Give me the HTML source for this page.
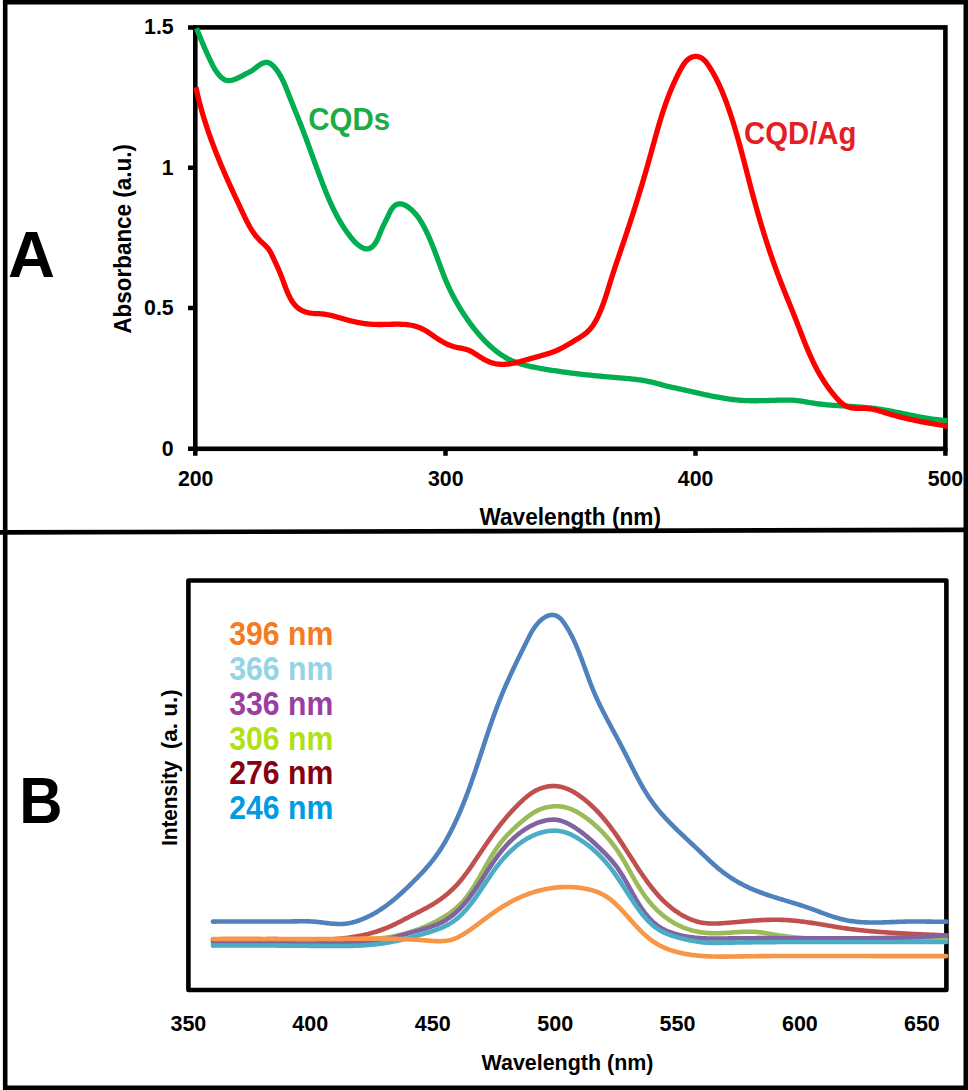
<!DOCTYPE html>
<html><head><meta charset="utf-8"><style>
html,body{margin:0;padding:0;background:#fff;}
body{width:968px;height:1090px;overflow:hidden;font-family:"Liberation Sans",sans-serif;}
svg{display:block;}
</style></head><body>
<svg width="968" height="1090" viewBox="0 0 968 1090">
<rect width="968" height="1090" fill="#fff"/>
<rect x="5.2" y="2.2" width="960.6" height="1085.6" fill="none" stroke="#000" stroke-width="4.6"/>
<line x1="0.5" y1="532.4" x2="964" y2="529.9" stroke="#000" stroke-width="4.6" stroke-linecap="round"/>
<path d="M188,27.4 H195.3 M188,167.7 H195.3 M188,307.9 H195.3 M188,448.8 H195.3 M195.3,448.8 V455.8 M445.5,448.8 V455.8 M695.5,448.8 V455.8 M945.4,448.8 V455.8" stroke="#000" stroke-width="4.5" fill="none"/>
<rect x="195.3" y="27.4" width="750.1" height="421.4" fill="none" stroke="#000" stroke-width="4.6"/>
<path d="M196.50,28.20 L197.05,29.61 L197.60,31.01 L198.16,32.42 L198.72,33.81 L199.28,35.21 L199.84,36.60 L200.41,37.99 L200.98,39.38 L201.56,40.76 L202.14,42.14 L202.72,43.52 L203.31,44.90 L203.90,46.27 L204.49,47.65 L205.09,49.02 L205.70,50.39 L206.31,51.76 L206.92,53.13 L207.54,54.49 L208.16,55.86 L208.79,57.22 L209.43,58.59 L210.07,59.95 L210.72,61.32 L211.37,62.68 L212.05,64.03 L212.74,65.37 L213.45,66.71 L214.20,68.03 L214.97,69.33 L215.78,70.61 L216.63,71.88 L217.52,73.11 L218.46,74.32 L219.45,75.49 L220.48,76.59 L221.57,77.60 L222.70,78.50 L223.88,79.28 L225.11,79.90 L226.39,80.34 L227.71,80.59 L229.08,80.65 L230.48,80.52 L231.92,80.24 L233.37,79.83 L234.84,79.31 L236.31,78.69 L237.78,78.01 L239.23,77.29 L240.67,76.54 L242.07,75.79 L243.45,75.07 L244.78,74.38 L246.06,73.74 L247.32,73.12 L248.55,72.49 L249.77,71.85 L250.98,71.16 L252.20,70.41 L253.42,69.58 L254.67,68.65 L255.95,67.67 L257.25,66.66 L258.58,65.67 L259.94,64.74 L261.34,63.89 L262.78,63.18 L264.23,62.66 L265.64,62.37 L267.00,62.36 L268.30,62.63 L269.53,63.12 L270.70,63.82 L271.82,64.67 L272.89,65.64 L273.91,66.70 L274.89,67.81 L275.82,68.95 L276.72,70.12 L277.58,71.32 L278.41,72.55 L279.21,73.80 L279.97,75.07 L280.71,76.36 L281.41,77.67 L282.10,79.00 L282.76,80.34 L283.41,81.70 L284.03,83.08 L284.64,84.46 L285.23,85.86 L285.81,87.26 L286.39,88.67 L286.95,90.08 L287.51,91.50 L288.06,92.91 L288.62,94.33 L289.17,95.75 L289.72,97.16 L290.28,98.57 L290.84,99.98 L291.40,101.38 L291.96,102.78 L292.53,104.18 L293.09,105.58 L293.66,106.97 L294.22,108.37 L294.79,109.76 L295.35,111.15 L295.92,112.54 L296.48,113.93 L297.04,115.32 L297.60,116.71 L298.16,118.10 L298.72,119.49 L299.27,120.88 L299.82,122.27 L300.37,123.67 L300.91,125.06 L301.45,126.46 L301.99,127.85 L302.53,129.25 L303.06,130.65 L303.60,132.05 L304.12,133.45 L304.65,134.85 L305.18,136.26 L305.70,137.66 L306.22,139.06 L306.74,140.47 L307.26,141.88 L307.78,143.28 L308.29,144.69 L308.81,146.10 L309.32,147.51 L309.84,148.92 L310.35,150.33 L310.86,151.74 L311.38,153.15 L311.89,154.56 L312.40,155.97 L312.91,157.38 L313.43,158.80 L313.94,160.21 L314.45,161.62 L314.97,163.04 L315.48,164.45 L316.00,165.86 L316.52,167.27 L317.03,168.69 L317.55,170.10 L318.08,171.51 L318.60,172.93 L319.12,174.34 L319.65,175.75 L320.18,177.16 L320.71,178.58 L321.24,179.99 L321.78,181.40 L322.32,182.81 L322.86,184.22 L323.40,185.63 L323.95,187.04 L324.51,188.44 L325.06,189.85 L325.63,191.25 L326.19,192.65 L326.76,194.05 L327.34,195.44 L327.93,196.83 L328.52,198.22 L329.11,199.61 L329.72,200.99 L330.33,202.36 L330.94,203.74 L331.57,205.10 L332.20,206.47 L332.85,207.82 L333.50,209.18 L334.16,210.52 L334.83,211.86 L335.51,213.20 L336.20,214.53 L336.90,215.85 L337.61,217.16 L338.33,218.47 L339.06,219.77 L339.81,221.06 L340.56,222.35 L341.33,223.62 L342.11,224.89 L342.91,226.15 L343.72,227.40 L344.54,228.64 L345.37,229.88 L346.22,231.10 L347.09,232.31 L347.96,233.51 L348.86,234.70 L349.77,235.89 L350.69,237.06 L351.63,238.22 L352.59,239.36 L353.57,240.49 L354.60,241.60 L355.66,242.69 L356.79,243.75 L357.98,244.77 L359.24,245.75 L360.58,246.66 L361.95,247.47 L363.34,248.14 L364.74,248.64 L366.11,248.92 L367.43,248.96 L368.70,248.74 L369.92,248.30 L371.07,247.65 L372.16,246.82 L373.19,245.85 L374.16,244.75 L375.05,243.55 L375.88,242.27 L376.65,240.94 L377.36,239.56 L378.02,238.16 L378.64,236.72 L379.23,235.28 L379.81,233.84 L380.38,232.41 L380.94,230.99 L381.51,229.61 L382.10,228.26 L382.71,226.95 L383.33,225.65 L383.96,224.37 L384.60,223.08 L385.25,221.79 L385.90,220.47 L386.57,219.13 L387.23,217.75 L387.90,216.32 L388.58,214.86 L389.28,213.40 L390.00,211.95 L390.76,210.55 L391.57,209.22 L392.44,207.98 L393.38,206.87 L394.39,205.90 L395.48,205.09 L396.67,204.49 L397.96,204.09 L399.32,203.91 L400.73,203.94 L402.15,204.16 L403.57,204.59 L404.96,205.19 L406.31,205.94 L407.61,206.77 L408.87,207.66 L410.07,208.58 L411.23,209.55 L412.34,210.56 L413.41,211.61 L414.44,212.70 L415.44,213.81 L416.39,214.96 L417.32,216.13 L418.21,217.34 L419.06,218.56 L419.90,219.81 L420.70,221.07 L421.48,222.36 L422.24,223.65 L422.98,224.96 L423.70,226.28 L424.41,227.61 L425.10,228.94 L425.77,230.28 L426.44,231.63 L427.09,232.98 L427.72,234.34 L428.35,235.70 L428.96,237.07 L429.57,238.44 L430.16,239.82 L430.74,241.20 L431.32,242.59 L431.89,243.98 L432.45,245.37 L433.00,246.76 L433.55,248.16 L434.09,249.56 L434.63,250.97 L435.16,252.37 L435.69,253.78 L436.22,255.19 L436.74,256.60 L437.26,258.01 L437.78,259.42 L438.30,260.83 L438.82,262.24 L439.34,263.65 L439.86,265.06 L440.38,266.47 L440.91,267.88 L441.44,269.29 L441.97,270.70 L442.51,272.10 L443.05,273.50 L443.60,274.91 L444.15,276.30 L444.71,277.70 L445.27,279.09 L445.85,280.48 L446.43,281.86 L447.03,283.24 L447.63,284.62 L448.24,285.99 L448.87,287.36 L449.50,288.72 L450.15,290.08 L450.80,291.43 L451.47,292.78 L452.14,294.12 L452.83,295.46 L453.52,296.80 L454.23,298.12 L454.94,299.45 L455.67,300.76 L456.40,302.07 L457.15,303.38 L457.90,304.68 L458.66,305.98 L459.43,307.27 L460.21,308.55 L461.00,309.83 L461.80,311.10 L462.60,312.37 L463.41,313.63 L464.24,314.88 L465.07,316.13 L465.90,317.37 L466.75,318.61 L467.61,319.84 L468.47,321.06 L469.34,322.28 L470.23,323.49 L471.12,324.69 L472.02,325.89 L472.93,327.08 L473.85,328.26 L474.79,329.43 L475.73,330.60 L476.68,331.76 L477.65,332.91 L478.62,334.05 L479.61,335.19 L480.61,336.31 L481.62,337.43 L482.64,338.54 L483.68,339.64 L484.72,340.73 L485.78,341.81 L486.85,342.88 L487.94,343.94 L489.03,344.98 L490.14,346.01 L491.26,347.02 L492.40,348.01 L493.55,348.99 L494.71,349.95 L495.88,350.89 L497.07,351.81 L498.27,352.71 L499.49,353.59 L500.71,354.44 L501.96,355.27 L503.21,356.08 L504.48,356.86 L505.77,357.61 L507.07,358.33 L508.38,359.03 L509.71,359.69 L511.05,360.33 L512.40,360.93 L513.77,361.51 L515.16,362.05 L516.55,362.57 L517.96,363.07 L519.38,363.53 L520.80,363.98 L522.24,364.40 L523.69,364.81 L525.14,365.19 L526.60,365.56 L528.07,365.91 L529.54,366.24 L531.02,366.56 L532.50,366.87 L533.99,367.17 L535.47,367.46 L536.96,367.74 L538.46,368.01 L539.95,368.28 L541.44,368.54 L542.93,368.80 L544.42,369.05 L545.91,369.30 L547.40,369.55 L548.89,369.79 L550.38,370.03 L551.87,370.27 L553.35,370.50 L554.84,370.73 L556.33,370.95 L557.82,371.17 L559.31,371.39 L560.79,371.60 L562.28,371.81 L563.77,372.02 L565.26,372.22 L566.74,372.43 L568.23,372.62 L569.72,372.82 L571.20,373.01 L572.69,373.20 L574.18,373.38 L575.67,373.57 L577.15,373.75 L578.64,373.92 L580.13,374.10 L581.62,374.27 L583.11,374.44 L584.60,374.60 L586.09,374.76 L587.58,374.92 L589.07,375.08 L590.56,375.24 L592.05,375.39 L593.54,375.54 L595.03,375.69 L596.53,375.84 L598.02,375.98 L599.51,376.12 L601.01,376.26 L602.50,376.40 L604.00,376.53 L605.50,376.66 L606.99,376.80 L608.49,376.92 L609.99,377.05 L611.49,377.18 L612.99,377.30 L614.49,377.42 L615.99,377.54 L617.50,377.66 L619.00,377.79 L620.50,377.91 L622.00,378.03 L623.51,378.16 L625.01,378.30 L626.51,378.43 L628.01,378.57 L629.51,378.72 L631.01,378.88 L632.50,379.04 L634.00,379.21 L635.49,379.39 L636.99,379.58 L638.47,379.78 L639.96,379.99 L641.45,380.21 L642.93,380.45 L644.41,380.70 L645.88,380.96 L647.36,381.24 L648.83,381.54 L650.29,381.85 L651.76,382.18 L653.21,382.52 L654.67,382.88 L656.12,383.26 L657.57,383.65 L659.02,384.04 L660.47,384.43 L661.91,384.82 L663.36,385.21 L664.81,385.59 L666.27,385.96 L667.72,386.31 L669.18,386.65 L670.64,386.99 L672.10,387.31 L673.57,387.63 L675.03,387.95 L676.50,388.26 L677.97,388.57 L679.43,388.88 L680.90,389.20 L682.37,389.52 L683.84,389.85 L685.30,390.17 L686.77,390.50 L688.24,390.83 L689.71,391.16 L691.17,391.50 L692.64,391.83 L694.11,392.17 L695.58,392.50 L697.05,392.83 L698.52,393.17 L699.99,393.50 L701.46,393.82 L702.93,394.15 L704.40,394.47 L705.87,394.79 L707.34,395.11 L708.81,395.42 L710.29,395.73 L711.76,396.03 L713.24,396.33 L714.71,396.62 L716.19,396.91 L717.67,397.18 L719.14,397.45 L720.62,397.72 L722.10,397.97 L723.58,398.22 L725.06,398.46 L726.55,398.69 L728.03,398.90 L729.51,399.11 L731.00,399.31 L732.49,399.50 L733.97,399.67 L735.46,399.83 L736.95,399.99 L738.44,400.12 L739.94,400.25 L741.43,400.36 L742.93,400.46 L744.42,400.54 L745.92,400.61 L747.42,400.66 L748.92,400.70 L750.42,400.74 L751.93,400.76 L753.43,400.77 L754.93,400.77 L756.44,400.76 L757.94,400.75 L759.45,400.72 L760.96,400.70 L762.46,400.66 L763.97,400.62 L765.48,400.58 L766.99,400.54 L768.49,400.49 L770.00,400.44 L771.51,400.39 L773.02,400.34 L774.52,400.29 L776.03,400.24 L777.54,400.20 L779.04,400.15 L780.55,400.12 L782.05,400.08 L783.56,400.06 L785.06,400.04 L786.56,400.04 L788.06,400.05 L789.56,400.08 L791.06,400.13 L792.55,400.20 L794.05,400.30 L795.54,400.42 L797.03,400.58 L798.51,400.77 L800.00,400.98 L801.48,401.21 L802.97,401.45 L804.45,401.71 L805.93,401.97 L807.41,402.23 L808.90,402.49 L810.38,402.74 L811.87,402.98 L813.36,403.21 L814.85,403.42 L816.34,403.62 L817.83,403.82 L819.32,404.00 L820.81,404.17 L822.31,404.33 L823.80,404.49 L825.30,404.64 L826.80,404.77 L828.30,404.91 L829.80,405.03 L831.30,405.15 L832.80,405.27 L834.30,405.38 L835.80,405.48 L837.30,405.58 L838.80,405.68 L840.30,405.78 L841.80,405.87 L843.30,405.96 L844.81,406.05 L846.31,406.14 L847.81,406.23 L849.31,406.32 L850.81,406.42 L852.31,406.51 L853.82,406.61 L855.32,406.71 L856.81,406.81 L858.31,406.92 L859.81,407.03 L861.31,407.14 L862.81,407.26 L864.30,407.39 L865.80,407.53 L867.29,407.67 L868.78,407.82 L870.28,407.97 L871.77,408.14 L873.25,408.31 L874.74,408.50 L876.23,408.70 L877.71,408.90 L879.20,409.12 L880.68,409.35 L882.16,409.58 L883.64,409.83 L885.12,410.08 L886.60,410.34 L888.07,410.60 L889.55,410.88 L891.03,411.15 L892.50,411.44 L893.97,411.73 L895.45,412.02 L896.92,412.32 L898.39,412.61 L899.87,412.92 L901.34,413.22 L902.81,413.52 L904.28,413.83 L905.76,414.14 L907.23,414.44 L908.70,414.75 L910.17,415.05 L911.65,415.35 L913.12,415.65 L914.59,415.95 L916.07,416.24 L917.54,416.53 L919.02,416.81 L920.50,417.09 L921.97,417.37 L923.45,417.63 L924.93,417.89 L926.41,418.15 L927.89,418.39 L929.38,418.63 L930.86,418.85 L932.35,419.07 L933.83,419.28 L935.32,419.48 L936.81,419.66 L938.31,419.83 L939.80,420.00 L941.30,420.14 L942.79,420.28 L944.29,420.40 L945.80,420.51 L947.30,420.60" fill="none" stroke="#00ae4f" stroke-width="5.3" stroke-linecap="butt" stroke-linejoin="round"/>
<path d="M195.90,87.20 L196.22,88.67 L196.54,90.14 L196.86,91.61 L197.20,93.08 L197.54,94.55 L197.88,96.01 L198.23,97.47 L198.59,98.93 L198.96,100.39 L199.33,101.85 L199.71,103.30 L200.09,104.76 L200.48,106.21 L200.88,107.66 L201.28,109.11 L201.69,110.55 L202.10,112.00 L202.52,113.44 L202.94,114.88 L203.37,116.32 L203.81,117.75 L204.25,119.19 L204.70,120.62 L205.15,122.06 L205.61,123.49 L206.07,124.92 L206.53,126.34 L207.01,127.77 L207.48,129.19 L207.97,130.61 L208.45,132.03 L208.94,133.45 L209.44,134.87 L209.94,136.29 L210.45,137.70 L210.96,139.11 L211.47,140.52 L211.99,141.93 L212.51,143.34 L213.04,144.75 L213.57,146.15 L214.11,147.56 L214.64,148.96 L215.19,150.36 L215.73,151.76 L216.28,153.16 L216.84,154.56 L217.40,155.95 L217.96,157.34 L218.52,158.74 L219.09,160.13 L219.66,161.52 L220.24,162.90 L220.82,164.29 L221.40,165.68 L221.99,167.06 L222.57,168.44 L223.16,169.83 L223.76,171.21 L224.35,172.59 L224.95,173.96 L225.56,175.34 L226.16,176.72 L226.77,178.09 L227.38,179.46 L227.99,180.84 L228.60,182.21 L229.22,183.58 L229.83,184.95 L230.45,186.32 L231.08,187.69 L231.70,189.05 L232.32,190.42 L232.95,191.79 L233.58,193.15 L234.21,194.52 L234.84,195.89 L235.47,197.25 L236.10,198.61 L236.74,199.98 L237.37,201.34 L238.01,202.71 L238.64,204.07 L239.28,205.43 L239.92,206.80 L240.56,208.16 L241.20,209.52 L241.84,210.88 L242.47,212.25 L243.11,213.61 L243.76,214.97 L244.40,216.33 L245.05,217.69 L245.71,219.04 L246.37,220.38 L247.05,221.72 L247.74,223.05 L248.44,224.36 L249.16,225.67 L249.89,226.96 L250.64,228.24 L251.41,229.51 L252.20,230.76 L253.02,231.99 L253.86,233.20 L254.73,234.39 L255.62,235.56 L256.55,236.71 L257.50,237.83 L258.49,238.93 L259.52,240.00 L260.58,241.04 L261.66,242.07 L262.76,243.08 L263.86,244.10 L264.95,245.14 L266.01,246.20 L267.03,247.30 L268.00,248.45 L268.90,249.66 L269.73,250.93 L270.50,252.25 L271.22,253.61 L271.90,254.98 L272.56,256.37 L273.21,257.74 L273.84,259.10 L274.47,260.45 L275.09,261.79 L275.71,263.11 L276.32,264.43 L276.92,265.75 L277.52,267.07 L278.11,268.39 L278.69,269.71 L279.26,271.05 L279.83,272.40 L280.39,273.76 L280.95,275.13 L281.50,276.53 L282.04,277.96 L282.57,279.40 L283.11,280.85 L283.64,282.32 L284.18,283.80 L284.72,285.27 L285.27,286.75 L285.83,288.23 L286.40,289.70 L286.99,291.15 L287.60,292.60 L288.23,294.02 L288.88,295.42 L289.55,296.79 L290.25,298.13 L290.99,299.44 L291.76,300.71 L292.56,301.93 L293.40,303.11 L294.28,304.24 L295.21,305.32 L296.18,306.34 L297.20,307.30 L298.27,308.19 L299.39,309.01 L300.57,309.76 L301.80,310.44 L303.09,311.04 L304.42,311.57 L305.80,312.03 L307.21,312.42 L308.65,312.76 L310.11,313.03 L311.60,313.24 L313.10,313.41 L314.61,313.52 L316.13,313.59 L317.65,313.65 L319.16,313.70 L320.67,313.78 L322.17,313.89 L323.66,314.05 L325.14,314.25 L326.61,314.50 L328.07,314.77 L329.53,315.08 L330.98,315.42 L332.43,315.78 L333.87,316.16 L335.32,316.55 L336.76,316.96 L338.21,317.37 L339.66,317.79 L341.11,318.21 L342.57,318.63 L344.03,319.04 L345.50,319.45 L346.97,319.85 L348.44,320.24 L349.91,320.62 L351.38,320.99 L352.86,321.35 L354.33,321.69 L355.81,322.02 L357.28,322.33 L358.75,322.62 L360.22,322.89 L361.69,323.13 L363.16,323.36 L364.62,323.57 L366.08,323.75 L367.55,323.91 L369.01,324.05 L370.48,324.17 L371.95,324.28 L373.42,324.36 L374.90,324.42 L376.38,324.47 L377.87,324.50 L379.37,324.51 L380.88,324.51 L382.39,324.50 L383.91,324.47 L385.43,324.43 L386.96,324.39 L388.49,324.35 L390.03,324.31 L391.56,324.26 L393.10,324.23 L394.63,324.20 L396.16,324.19 L397.69,324.19 L399.22,324.20 L400.74,324.23 L402.26,324.29 L403.77,324.37 L405.27,324.48 L406.76,324.62 L408.24,324.79 L409.71,324.99 L411.17,325.24 L412.62,325.52 L414.05,325.85 L415.47,326.23 L416.87,326.65 L418.26,327.13 L419.62,327.66 L420.97,328.25 L422.31,328.89 L423.62,329.58 L424.92,330.31 L426.21,331.07 L427.49,331.87 L428.76,332.69 L430.02,333.53 L431.28,334.38 L432.53,335.25 L433.78,336.11 L435.03,336.98 L436.29,337.83 L437.54,338.67 L438.80,339.50 L440.06,340.30 L441.34,341.07 L442.62,341.81 L443.91,342.53 L445.22,343.21 L446.54,343.86 L447.87,344.47 L449.22,345.04 L450.59,345.57 L451.98,346.06 L453.39,346.50 L454.83,346.90 L456.28,347.25 L457.76,347.56 L459.24,347.86 L460.73,348.15 L462.22,348.44 L463.69,348.76 L465.15,349.11 L466.60,349.51 L468.01,349.97 L469.38,350.51 L470.72,351.13 L472.03,351.83 L473.31,352.59 L474.57,353.39 L475.83,354.23 L477.09,355.07 L478.36,355.92 L479.64,356.75 L480.94,357.56 L482.26,358.34 L483.59,359.10 L484.93,359.82 L486.29,360.50 L487.66,361.14 L489.04,361.73 L490.43,362.27 L491.83,362.74 L493.24,363.16 L494.65,363.50 L496.08,363.78 L497.52,364.00 L498.96,364.16 L500.40,364.26 L501.86,364.31 L503.32,364.30 L504.78,364.25 L506.25,364.16 L507.73,364.02 L509.21,363.84 L510.69,363.62 L512.17,363.37 L513.66,363.10 L515.14,362.79 L516.63,362.45 L518.12,362.10 L519.61,361.72 L521.10,361.33 L522.58,360.93 L524.07,360.51 L525.55,360.08 L527.03,359.66 L528.51,359.22 L529.98,358.79 L531.45,358.36 L532.92,357.94 L534.38,357.53 L535.84,357.12 L537.28,356.72 L538.73,356.33 L540.17,355.94 L541.60,355.55 L543.02,355.15 L544.45,354.74 L545.86,354.33 L547.27,353.91 L548.67,353.47 L550.07,353.01 L551.46,352.53 L552.84,352.03 L554.22,351.51 L555.59,350.95 L556.96,350.37 L558.32,349.75 L559.67,349.11 L561.02,348.44 L562.36,347.74 L563.70,347.03 L565.03,346.30 L566.36,345.55 L567.68,344.78 L569.00,344.01 L570.31,343.23 L571.63,342.44 L572.93,341.65 L574.24,340.85 L575.54,340.06 L576.84,339.27 L578.13,338.48 L579.41,337.68 L580.67,336.88 L581.92,336.05 L583.14,335.21 L584.34,334.34 L585.51,333.44 L586.65,332.51 L587.74,331.53 L588.80,330.51 L589.80,329.45 L590.77,328.33 L591.69,327.17 L592.57,325.97 L593.41,324.74 L594.22,323.47 L595.00,322.18 L595.75,320.86 L596.46,319.53 L597.16,318.17 L597.83,316.81 L598.47,315.43 L599.10,314.05 L599.72,312.67 L600.31,311.28 L600.89,309.88 L601.46,308.49 L602.01,307.08 L602.54,305.68 L603.07,304.27 L603.58,302.85 L604.08,301.44 L604.57,300.02 L605.06,298.60 L605.53,297.17 L606.00,295.75 L606.46,294.32 L606.92,292.89 L607.37,291.46 L607.82,290.03 L608.26,288.59 L608.70,287.16 L609.14,285.73 L609.59,284.29 L610.03,282.86 L610.47,281.43 L610.92,279.99 L611.37,278.56 L611.82,277.13 L612.28,275.70 L612.74,274.27 L613.20,272.85 L613.66,271.42 L614.13,269.99 L614.60,268.57 L615.07,267.14 L615.55,265.72 L616.03,264.29 L616.50,262.87 L616.98,261.44 L617.47,260.02 L617.95,258.60 L618.43,257.18 L618.92,255.75 L619.40,254.33 L619.89,252.91 L620.37,251.49 L620.86,250.06 L621.35,248.64 L621.83,247.22 L622.32,245.80 L622.80,244.37 L623.28,242.95 L623.77,241.52 L624.25,240.10 L624.73,238.68 L625.21,237.25 L625.69,235.83 L626.16,234.40 L626.64,232.97 L627.11,231.55 L627.59,230.12 L628.06,228.69 L628.53,227.26 L629.00,225.84 L629.47,224.41 L629.94,222.98 L630.40,221.55 L630.87,220.12 L631.33,218.69 L631.80,217.26 L632.26,215.83 L632.72,214.39 L633.18,212.96 L633.63,211.53 L634.09,210.10 L634.54,208.66 L635.00,207.23 L635.45,205.80 L635.90,204.36 L636.35,202.93 L636.80,201.49 L637.24,200.06 L637.69,198.62 L638.13,197.19 L638.58,195.75 L639.02,194.31 L639.46,192.87 L639.90,191.44 L640.33,190.00 L640.77,188.56 L641.20,187.12 L641.64,185.68 L642.07,184.24 L642.50,182.80 L642.93,181.36 L643.35,179.92 L643.78,178.48 L644.20,177.04 L644.62,175.59 L645.04,174.15 L645.46,172.71 L645.88,171.26 L646.30,169.82 L646.71,168.38 L647.13,166.93 L647.54,165.49 L647.95,164.04 L648.36,162.60 L648.76,161.15 L649.17,159.70 L649.57,158.26 L649.97,156.81 L650.38,155.36 L650.78,153.91 L651.17,152.47 L651.57,151.02 L651.97,149.57 L652.37,148.12 L652.76,146.67 L653.16,145.23 L653.56,143.78 L653.96,142.33 L654.36,140.88 L654.76,139.44 L655.16,137.99 L655.56,136.55 L655.96,135.10 L656.37,133.66 L656.78,132.21 L657.19,130.77 L657.60,129.33 L658.02,127.89 L658.44,126.44 L658.86,125.01 L659.29,123.57 L659.72,122.13 L660.15,120.69 L660.59,119.26 L661.03,117.83 L661.47,116.39 L661.93,114.96 L662.38,113.53 L662.84,112.11 L663.31,110.68 L663.78,109.26 L664.26,107.83 L664.74,106.41 L665.23,105.00 L665.73,103.58 L666.23,102.16 L666.74,100.75 L667.26,99.34 L667.78,97.93 L668.32,96.53 L668.86,95.12 L669.40,93.72 L669.96,92.32 L670.52,90.93 L671.10,89.53 L671.68,88.14 L672.27,86.76 L672.87,85.37 L673.48,83.99 L674.10,82.61 L674.73,81.23 L675.37,79.86 L676.02,78.49 L676.68,77.12 L677.35,75.76 L678.04,74.39 L678.73,73.04 L679.44,71.68 L680.15,70.33 L680.88,68.99 L681.63,67.65 L682.39,66.33 L683.19,65.03 L684.03,63.79 L684.91,62.59 L685.85,61.46 L686.85,60.41 L687.93,59.45 L689.09,58.59 L690.32,57.85 L691.62,57.24 L692.96,56.78 L694.33,56.48 L695.72,56.37 L697.11,56.47 L698.48,56.75 L699.82,57.21 L701.11,57.82 L702.35,58.58 L703.52,59.48 L704.60,60.48 L705.61,61.58 L706.57,62.75 L707.47,63.98 L708.34,65.25 L709.18,66.53 L710.01,67.82 L710.81,69.11 L711.61,70.42 L712.38,71.73 L713.14,73.04 L713.88,74.37 L714.61,75.69 L715.32,77.03 L716.02,78.37 L716.71,79.71 L717.38,81.06 L718.04,82.42 L718.69,83.77 L719.32,85.14 L719.95,86.51 L720.56,87.88 L721.16,89.26 L721.75,90.64 L722.33,92.02 L722.90,93.41 L723.46,94.80 L724.02,96.20 L724.56,97.59 L725.10,98.99 L725.63,100.40 L726.16,101.80 L726.67,103.21 L727.19,104.62 L727.69,106.03 L728.19,107.44 L728.69,108.86 L729.18,110.28 L729.66,111.70 L730.14,113.12 L730.61,114.54 L731.08,115.96 L731.55,117.39 L732.01,118.82 L732.46,120.25 L732.91,121.68 L733.36,123.11 L733.80,124.54 L734.24,125.98 L734.67,127.41 L735.10,128.85 L735.53,130.29 L735.95,131.73 L736.38,133.17 L736.79,134.61 L737.21,136.06 L737.62,137.50 L738.02,138.95 L738.43,140.39 L738.83,141.84 L739.23,143.29 L739.63,144.74 L740.02,146.19 L740.42,147.64 L740.81,149.09 L741.20,150.54 L741.59,152.00 L741.97,153.45 L742.36,154.90 L742.74,156.36 L743.12,157.81 L743.50,159.27 L743.88,160.72 L744.26,162.18 L744.64,163.64 L745.01,165.09 L745.39,166.55 L745.77,168.01 L746.14,169.46 L746.52,170.92 L746.89,172.38 L747.27,173.83 L747.64,175.29 L748.02,176.75 L748.40,178.20 L748.77,179.66 L749.15,181.12 L749.53,182.57 L749.91,184.03 L750.29,185.48 L750.67,186.94 L751.06,188.39 L751.44,189.85 L751.83,191.30 L752.22,192.75 L752.60,194.21 L753.00,195.66 L753.39,197.11 L753.78,198.56 L754.18,200.01 L754.58,201.46 L754.98,202.91 L755.38,204.36 L755.78,205.81 L756.19,207.25 L756.59,208.70 L757.00,210.15 L757.41,211.59 L757.83,213.04 L758.24,214.48 L758.66,215.92 L759.08,217.37 L759.50,218.81 L759.92,220.25 L760.35,221.69 L760.78,223.13 L761.21,224.57 L761.64,226.01 L762.07,227.44 L762.51,228.88 L762.95,230.32 L763.39,231.75 L763.84,233.19 L764.28,234.62 L764.73,236.05 L765.18,237.48 L765.63,238.92 L766.09,240.35 L766.55,241.77 L767.01,243.20 L767.47,244.63 L767.94,246.06 L768.41,247.48 L768.88,248.91 L769.36,250.33 L769.83,251.75 L770.31,253.18 L770.80,254.60 L771.28,256.02 L771.77,257.44 L772.26,258.85 L772.76,260.27 L773.25,261.69 L773.75,263.10 L774.26,264.51 L774.76,265.93 L775.27,267.34 L775.79,268.75 L776.30,270.16 L776.82,271.57 L777.34,272.98 L777.87,274.38 L778.40,275.79 L778.93,277.19 L779.46,278.59 L780.00,280.00 L780.54,281.40 L781.09,282.80 L781.63,284.19 L782.18,285.59 L782.73,286.99 L783.29,288.39 L783.84,289.78 L784.40,291.18 L784.96,292.57 L785.52,293.97 L786.08,295.36 L786.64,296.76 L787.20,298.15 L787.76,299.55 L788.33,300.94 L788.89,302.33 L789.46,303.73 L790.02,305.12 L790.58,306.52 L791.15,307.91 L791.71,309.31 L792.27,310.70 L792.83,312.10 L793.39,313.50 L793.95,314.89 L794.50,316.29 L795.06,317.69 L795.61,319.09 L796.16,320.49 L796.71,321.90 L797.26,323.30 L797.80,324.70 L798.34,326.11 L798.88,327.51 L799.42,328.92 L799.97,330.32 L800.51,331.73 L801.05,333.13 L801.59,334.54 L802.13,335.94 L802.68,337.34 L803.23,338.74 L803.78,340.14 L804.33,341.54 L804.89,342.94 L805.45,344.33 L806.01,345.73 L806.58,347.11 L807.15,348.50 L807.73,349.89 L808.32,351.27 L808.91,352.65 L809.51,354.02 L810.12,355.39 L810.73,356.76 L811.35,358.12 L811.98,359.48 L812.62,360.83 L813.26,362.18 L813.92,363.53 L814.59,364.87 L815.26,366.20 L815.95,367.53 L816.65,368.86 L817.35,370.18 L818.07,371.49 L818.80,372.80 L819.54,374.10 L820.30,375.39 L821.06,376.68 L821.84,377.96 L822.63,379.24 L823.43,380.51 L824.24,381.77 L825.07,383.03 L825.91,384.27 L826.77,385.52 L827.63,386.75 L828.52,387.98 L829.41,389.20 L830.32,390.41 L831.25,391.61 L832.19,392.80 L833.15,393.99 L834.12,395.17 L835.11,396.34 L836.11,397.50 L837.13,398.65 L838.17,399.77 L839.24,400.86 L840.33,401.90 L841.44,402.89 L842.59,403.82 L843.77,404.68 L844.98,405.46 L846.23,406.15 L847.53,406.73 L848.86,407.21 L850.23,407.59 L851.64,407.87 L853.08,408.08 L854.55,408.22 L856.04,408.30 L857.55,408.35 L859.07,408.37 L860.60,408.37 L862.14,408.37 L863.67,408.38 L865.21,408.41 L866.73,408.48 L868.24,408.60 L869.74,408.77 L871.23,408.99 L872.70,409.25 L874.16,409.56 L875.61,409.90 L877.06,410.27 L878.49,410.67 L879.93,411.08 L881.36,411.52 L882.79,411.96 L884.22,412.41 L885.65,412.86 L887.08,413.30 L888.52,413.74 L889.96,414.17 L891.40,414.59 L892.85,415.00 L894.30,415.40 L895.75,415.80 L897.20,416.19 L898.66,416.57 L900.12,416.94 L901.58,417.31 L903.04,417.67 L904.51,418.02 L905.97,418.37 L907.44,418.71 L908.91,419.05 L910.37,419.38 L911.84,419.70 L913.31,420.02 L914.78,420.33 L916.25,420.64 L917.72,420.94 L919.19,421.24 L920.66,421.53 L922.14,421.82 L923.61,422.10 L925.09,422.38 L926.56,422.65 L928.04,422.93 L929.51,423.20 L930.99,423.46 L932.47,423.72 L933.95,423.98 L935.43,424.24 L936.91,424.49 L938.39,424.74 L939.88,424.99 L941.36,425.23 L942.84,425.48 L944.33,425.72 L945.81,425.96 L947.30,426.20" fill="none" stroke="#ff0000" stroke-width="5.3" stroke-linecap="butt" stroke-linejoin="round"/>
<rect x="188.4" y="580.5" width="758.0" height="409.5" fill="none" stroke="#000" stroke-width="4.6" stroke-linejoin="round"/>
<path d="M212.90,921.60 L214.40,921.59 L215.91,921.58 L217.41,921.56 L218.92,921.55 L220.42,921.55 L221.92,921.54 L223.43,921.53 L224.93,921.53 L226.44,921.52 L227.94,921.52 L229.44,921.52 L230.95,921.52 L232.45,921.51 L233.95,921.51 L235.46,921.51 L236.96,921.52 L238.47,921.52 L239.97,921.52 L241.47,921.52 L242.98,921.52 L244.48,921.53 L245.99,921.53 L247.49,921.53 L248.99,921.53 L250.50,921.54 L252.00,921.54 L253.51,921.54 L255.01,921.55 L256.51,921.55 L258.02,921.55 L259.52,921.55 L261.03,921.56 L262.53,921.56 L264.03,921.56 L265.54,921.56 L267.04,921.56 L268.54,921.56 L270.05,921.56 L271.55,921.55 L273.06,921.55 L274.56,921.55 L276.06,921.54 L277.57,921.54 L279.07,921.53 L280.58,921.52 L282.08,921.51 L283.58,921.50 L285.09,921.49 L286.59,921.48 L288.10,921.46 L289.60,921.44 L291.11,921.43 L292.61,921.41 L294.11,921.39 L295.62,921.37 L297.12,921.34 L298.63,921.32 L300.13,921.31 L301.63,921.29 L303.14,921.29 L304.64,921.29 L306.14,921.31 L307.64,921.34 L309.15,921.38 L310.65,921.44 L312.15,921.51 L313.65,921.61 L315.14,921.73 L316.64,921.86 L318.14,922.02 L319.64,922.19 L321.13,922.37 L322.62,922.55 L324.12,922.74 L325.61,922.93 L327.10,923.11 L328.59,923.28 L330.08,923.45 L331.57,923.59 L333.06,923.72 L334.54,923.83 L336.03,923.91 L337.51,923.96 L339.00,923.99 L340.48,923.98 L341.96,923.93 L343.45,923.85 L344.93,923.73 L346.41,923.57 L347.89,923.36 L349.38,923.10 L350.86,922.80 L352.33,922.46 L353.81,922.08 L355.27,921.67 L356.73,921.22 L358.18,920.74 L359.62,920.23 L361.05,919.69 L362.47,919.13 L363.87,918.55 L365.26,917.95 L366.64,917.33 L368.00,916.69 L369.35,916.03 L370.69,915.36 L372.02,914.66 L373.33,913.94 L374.63,913.21 L375.92,912.46 L377.21,911.69 L378.48,910.91 L379.73,910.11 L380.98,909.30 L382.22,908.47 L383.45,907.62 L384.67,906.77 L385.89,905.89 L387.09,905.01 L388.28,904.11 L389.47,903.20 L390.64,902.28 L391.81,901.35 L392.98,900.40 L394.13,899.45 L395.28,898.49 L396.42,897.51 L397.56,896.53 L398.69,895.54 L399.81,894.54 L400.93,893.53 L402.04,892.51 L403.14,891.49 L404.25,890.46 L405.34,889.43 L406.44,888.39 L407.53,887.34 L408.61,886.30 L409.69,885.24 L410.77,884.18 L411.85,883.12 L412.92,882.06 L413.99,880.99 L415.06,879.92 L416.12,878.85 L417.18,877.77 L418.23,876.69 L419.28,875.60 L420.32,874.51 L421.36,873.41 L422.39,872.31 L423.41,871.20 L424.43,870.09 L425.43,868.97 L426.43,867.84 L427.42,866.71 L428.40,865.57 L429.37,864.42 L430.33,863.26 L431.28,862.10 L432.22,860.93 L433.15,859.75 L434.06,858.56 L434.96,857.36 L435.85,856.15 L436.73,854.93 L437.60,853.71 L438.45,852.47 L439.29,851.23 L440.12,849.98 L440.93,848.72 L441.74,847.45 L442.53,846.17 L443.32,844.89 L444.09,843.61 L444.85,842.31 L445.61,841.01 L446.35,839.71 L447.08,838.39 L447.81,837.08 L448.52,835.76 L449.23,834.43 L449.93,833.10 L450.62,831.77 L451.31,830.43 L451.98,829.09 L452.65,827.75 L453.32,826.40 L453.97,825.05 L454.62,823.70 L455.26,822.34 L455.89,820.98 L456.52,819.62 L457.14,818.26 L457.76,816.89 L458.37,815.52 L458.97,814.14 L459.57,812.77 L460.16,811.39 L460.74,810.01 L461.32,808.63 L461.90,807.24 L462.47,805.85 L463.03,804.46 L463.59,803.07 L464.15,801.68 L464.70,800.28 L465.24,798.88 L465.78,797.48 L466.32,796.08 L466.85,794.67 L467.38,793.27 L467.91,791.86 L468.43,790.45 L468.94,789.04 L469.46,787.62 L469.97,786.21 L470.47,784.79 L470.98,783.38 L471.48,781.96 L471.98,780.54 L472.47,779.12 L472.96,777.70 L473.45,776.27 L473.94,774.85 L474.43,773.42 L474.91,772.00 L475.39,770.57 L475.87,769.14 L476.35,767.71 L476.83,766.28 L477.30,764.85 L477.78,763.42 L478.25,761.99 L478.72,760.56 L479.19,759.13 L479.66,757.70 L480.13,756.27 L480.60,754.83 L481.07,753.40 L481.54,751.97 L482.01,750.54 L482.47,749.10 L482.94,747.67 L483.41,746.24 L483.88,744.80 L484.35,743.37 L484.82,741.94 L485.29,740.51 L485.77,739.08 L486.24,737.65 L486.71,736.22 L487.19,734.79 L487.67,733.36 L488.15,731.93 L488.63,730.50 L489.11,729.08 L489.60,727.65 L490.08,726.23 L490.57,724.80 L491.06,723.38 L491.56,721.96 L492.05,720.54 L492.55,719.12 L493.06,717.70 L493.56,716.29 L494.07,714.87 L494.58,713.46 L495.10,712.05 L495.62,710.64 L496.14,709.23 L496.67,707.82 L497.20,706.42 L497.74,705.02 L498.27,703.62 L498.82,702.22 L499.37,700.82 L499.92,699.42 L500.48,698.03 L501.04,696.64 L501.61,695.25 L502.18,693.86 L502.76,692.48 L503.34,691.10 L503.92,689.72 L504.51,688.34 L505.11,686.96 L505.70,685.59 L506.31,684.21 L506.91,682.84 L507.52,681.47 L508.13,680.10 L508.75,678.73 L509.37,677.37 L510.00,676.00 L510.62,674.64 L511.25,673.28 L511.89,671.92 L512.52,670.56 L513.16,669.20 L513.80,667.84 L514.45,666.48 L515.09,665.13 L515.74,663.77 L516.39,662.42 L517.05,661.06 L517.70,659.71 L518.36,658.36 L519.02,657.01 L519.68,655.65 L520.35,654.30 L521.01,652.95 L521.68,651.60 L522.35,650.25 L523.02,648.90 L523.69,647.55 L524.36,646.21 L525.03,644.86 L525.71,643.51 L526.38,642.16 L527.06,640.81 L527.73,639.46 L528.41,638.11 L529.09,636.76 L529.78,635.42 L530.49,634.09 L531.22,632.76 L531.97,631.44 L532.74,630.14 L533.55,628.86 L534.40,627.59 L535.29,626.34 L536.22,625.12 L537.21,623.92 L538.25,622.75 L539.35,621.61 L540.50,620.52 L541.70,619.48 L542.94,618.52 L544.22,617.64 L545.52,616.87 L546.85,616.21 L548.20,615.68 L549.55,615.30 L550.90,615.07 L552.24,614.99 L553.56,615.07 L554.85,615.30 L556.10,615.68 L557.30,616.22 L558.44,616.92 L559.53,617.74 L560.56,618.69 L561.55,619.74 L562.50,620.87 L563.41,622.08 L564.29,623.33 L565.14,624.61 L565.98,625.90 L566.79,627.21 L567.58,628.52 L568.36,629.84 L569.11,631.17 L569.85,632.50 L570.58,633.84 L571.29,635.19 L571.98,636.54 L572.66,637.90 L573.32,639.26 L573.97,640.63 L574.61,642.00 L575.23,643.38 L575.85,644.76 L576.45,646.15 L577.04,647.54 L577.62,648.94 L578.20,650.33 L578.76,651.73 L579.32,653.14 L579.87,654.54 L580.41,655.95 L580.95,657.36 L581.48,658.77 L582.01,660.19 L582.53,661.60 L583.05,663.02 L583.56,664.44 L584.08,665.86 L584.59,667.27 L585.10,668.69 L585.61,670.11 L586.12,671.53 L586.63,672.94 L587.14,674.36 L587.65,675.78 L588.17,677.19 L588.69,678.60 L589.21,680.01 L589.73,681.42 L590.27,682.82 L590.80,684.22 L591.35,685.62 L591.90,687.02 L592.45,688.41 L593.02,689.80 L593.59,691.18 L594.18,692.56 L594.77,693.94 L595.37,695.31 L595.97,696.68 L596.59,698.04 L597.21,699.41 L597.84,700.76 L598.48,702.12 L599.12,703.47 L599.77,704.82 L600.43,706.17 L601.09,707.51 L601.75,708.86 L602.43,710.19 L603.10,711.53 L603.78,712.87 L604.47,714.20 L605.16,715.54 L605.85,716.87 L606.55,718.20 L607.24,719.52 L607.95,720.85 L608.65,722.18 L609.36,723.50 L610.07,724.83 L610.78,726.16 L611.49,727.48 L612.20,728.80 L612.91,730.13 L613.63,731.45 L614.34,732.78 L615.05,734.11 L615.77,735.43 L616.48,736.76 L617.19,738.09 L617.90,739.42 L618.61,740.75 L619.32,742.08 L620.02,743.41 L620.72,744.75 L621.42,746.08 L622.12,747.42 L622.81,748.76 L623.50,750.11 L624.19,751.45 L624.87,752.80 L625.55,754.15 L626.23,755.50 L626.91,756.85 L627.59,758.20 L628.26,759.55 L628.94,760.90 L629.61,762.25 L630.29,763.60 L630.97,764.95 L631.64,766.30 L632.32,767.65 L633.01,768.99 L633.69,770.34 L634.38,771.68 L635.06,773.02 L635.76,774.36 L636.45,775.69 L637.16,777.03 L637.86,778.35 L638.57,779.68 L639.29,781.00 L640.01,782.32 L640.74,783.63 L641.47,784.94 L642.22,786.24 L642.97,787.54 L643.72,788.83 L644.49,790.12 L645.26,791.40 L646.04,792.67 L646.84,793.94 L647.64,795.20 L648.45,796.45 L649.27,797.70 L650.11,798.93 L650.95,800.16 L651.81,801.39 L652.67,802.60 L653.55,803.81 L654.45,805.00 L655.35,806.19 L656.27,807.37 L657.20,808.54 L658.15,809.70 L659.10,810.85 L660.06,812.00 L661.04,813.14 L662.02,814.27 L663.02,815.39 L664.02,816.51 L665.03,817.62 L666.06,818.73 L667.08,819.83 L668.12,820.92 L669.16,822.01 L670.22,823.09 L671.27,824.17 L672.34,825.24 L673.40,826.31 L674.48,827.37 L675.56,828.43 L676.64,829.49 L677.73,830.54 L678.82,831.59 L679.91,832.63 L681.01,833.68 L682.11,834.72 L683.21,835.76 L684.31,836.79 L685.42,837.83 L686.52,838.86 L687.62,839.89 L688.73,840.93 L689.83,841.96 L690.94,842.99 L692.04,844.02 L693.14,845.04 L694.24,846.07 L695.34,847.10 L696.43,848.14 L697.52,849.17 L698.61,850.20 L699.69,851.23 L700.77,852.27 L701.85,853.30 L702.92,854.34 L704.00,855.37 L705.08,856.40 L706.15,857.43 L707.23,858.46 L708.31,859.48 L709.40,860.50 L710.48,861.51 L711.58,862.52 L712.68,863.52 L713.78,864.52 L714.89,865.50 L716.01,866.48 L717.14,867.45 L718.28,868.41 L719.43,869.37 L720.59,870.31 L721.77,871.24 L722.95,872.15 L724.15,873.06 L725.36,873.95 L726.59,874.83 L727.83,875.70 L729.08,876.55 L730.34,877.39 L731.61,878.22 L732.89,879.03 L734.18,879.83 L735.48,880.61 L736.79,881.38 L738.11,882.14 L739.44,882.88 L740.77,883.61 L742.11,884.32 L743.46,885.02 L744.81,885.70 L746.17,886.37 L747.53,887.02 L748.90,887.66 L750.27,888.28 L751.65,888.88 L753.03,889.47 L754.42,890.05 L755.81,890.62 L757.20,891.18 L758.60,891.72 L760.00,892.25 L761.40,892.77 L762.81,893.28 L764.22,893.79 L765.63,894.28 L767.05,894.77 L768.47,895.24 L769.89,895.72 L771.31,896.18 L772.74,896.64 L774.16,897.09 L775.59,897.54 L777.02,897.99 L778.45,898.43 L779.88,898.87 L781.32,899.30 L782.75,899.73 L784.19,900.17 L785.62,900.60 L787.06,901.03 L788.50,901.46 L789.93,901.89 L791.37,902.33 L792.81,902.76 L794.24,903.20 L795.68,903.64 L797.12,904.09 L798.55,904.54 L799.98,904.99 L801.42,905.45 L802.85,905.92 L804.28,906.39 L805.71,906.87 L807.13,907.36 L808.56,907.86 L809.98,908.36 L811.40,908.87 L812.82,909.39 L814.24,909.91 L815.66,910.44 L817.07,910.96 L818.49,911.49 L819.91,912.02 L821.32,912.55 L822.74,913.07 L824.16,913.59 L825.57,914.10 L826.99,914.61 L828.42,915.11 L829.84,915.61 L831.26,916.09 L832.69,916.56 L834.12,917.02 L835.55,917.46 L836.99,917.89 L838.43,918.31 L839.87,918.71 L841.32,919.08 L842.77,919.44 L844.22,919.78 L845.68,920.10 L847.14,920.39 L848.61,920.66 L850.09,920.91 L851.56,921.14 L853.05,921.34 L854.53,921.53 L856.02,921.70 L857.51,921.85 L859.00,921.98 L860.50,922.10 L862.00,922.20 L863.50,922.28 L865.00,922.35 L866.50,922.41 L868.01,922.46 L869.51,922.49 L871.02,922.51 L872.52,922.53 L874.03,922.53 L875.53,922.52 L877.04,922.51 L878.54,922.49 L880.05,922.46 L881.55,922.43 L883.06,922.39 L884.56,922.35 L886.06,922.30 L887.56,922.25 L889.07,922.20 L890.57,922.14 L892.07,922.08 L893.57,922.03 L895.08,921.97 L896.58,921.91 L898.08,921.85 L899.58,921.79 L901.08,921.74 L902.59,921.69 L904.09,921.64 L905.59,921.59 L907.09,921.55 L908.60,921.52 L910.10,921.49 L911.60,921.47 L913.11,921.45 L914.61,921.44 L916.11,921.44 L917.62,921.45 L919.12,921.46 L920.63,921.48 L922.13,921.50 L923.64,921.53 L925.14,921.56 L926.65,921.58 L928.15,921.61 L929.66,921.64 L931.16,921.67 L932.67,921.69 L934.17,921.71 L935.68,921.72 L937.18,921.73 L938.69,921.73 L940.19,921.72 L941.69,921.71 L943.20,921.68 L944.70,921.65 L946.20,921.60" fill="none" stroke="#4f81bd" stroke-width="4.6" stroke-linecap="round" stroke-linejoin="round"/>
<path d="M212.90,939.50 L214.41,939.54 L215.91,939.57 L217.42,939.60 L218.93,939.62 L220.43,939.64 L221.94,939.65 L223.44,939.66 L224.95,939.67 L226.46,939.67 L227.96,939.67 L229.47,939.67 L230.97,939.66 L232.47,939.65 L233.98,939.64 L235.48,939.62 L236.99,939.60 L238.49,939.59 L239.99,939.56 L241.50,939.54 L243.00,939.52 L244.51,939.49 L246.01,939.47 L247.51,939.44 L249.02,939.42 L250.52,939.39 L252.02,939.37 L253.53,939.34 L255.03,939.32 L256.53,939.29 L258.04,939.27 L259.54,939.25 L261.05,939.23 L262.55,939.21 L264.05,939.19 L265.56,939.18 L267.06,939.17 L268.57,939.16 L270.07,939.15 L271.58,939.15 L273.08,939.15 L274.59,939.15 L276.09,939.16 L277.60,939.17 L279.10,939.19 L280.61,939.20 L282.11,939.23 L283.62,939.25 L285.13,939.28 L286.63,939.30 L288.14,939.34 L289.65,939.37 L291.15,939.40 L292.66,939.43 L294.17,939.46 L295.67,939.50 L297.18,939.53 L298.69,939.56 L300.19,939.59 L301.70,939.62 L303.21,939.65 L304.71,939.67 L306.22,939.69 L307.73,939.71 L309.23,939.73 L310.74,939.74 L312.24,939.74 L313.75,939.75 L315.25,939.74 L316.76,939.74 L318.26,939.72 L319.77,939.71 L321.27,939.68 L322.77,939.65 L324.28,939.61 L325.78,939.56 L327.28,939.51 L328.79,939.45 L330.29,939.37 L331.79,939.30 L333.29,939.21 L334.79,939.11 L336.29,939.00 L337.79,938.88 L339.29,938.75 L340.78,938.61 L342.28,938.46 L343.77,938.30 L345.27,938.13 L346.76,937.95 L348.25,937.76 L349.74,937.55 L351.22,937.34 L352.71,937.11 L354.19,936.87 L355.67,936.62 L357.15,936.35 L358.62,936.07 L360.09,935.78 L361.56,935.48 L363.03,935.16 L364.49,934.83 L365.95,934.49 L367.40,934.14 L368.85,933.77 L370.30,933.38 L371.74,932.98 L373.18,932.57 L374.62,932.14 L376.05,931.70 L377.47,931.25 L378.90,930.77 L380.31,930.29 L381.72,929.79 L383.13,929.27 L384.53,928.73 L385.93,928.18 L387.32,927.62 L388.70,927.04 L390.08,926.44 L391.45,925.83 L392.82,925.20 L394.18,924.55 L395.54,923.90 L396.89,923.23 L398.24,922.56 L399.59,921.87 L400.93,921.18 L402.28,920.48 L403.62,919.78 L404.96,919.08 L406.30,918.37 L407.64,917.67 L408.98,916.96 L410.32,916.26 L411.67,915.56 L413.01,914.87 L414.36,914.17 L415.71,913.48 L417.05,912.80 L418.40,912.11 L419.74,911.42 L421.08,910.73 L422.42,910.03 L423.76,909.33 L425.09,908.62 L426.41,907.91 L427.73,907.19 L429.04,906.46 L430.35,905.71 L431.65,904.96 L432.93,904.19 L434.21,903.41 L435.48,902.62 L436.74,901.80 L437.99,900.98 L439.22,900.13 L440.45,899.27 L441.66,898.40 L442.86,897.50 L444.05,896.59 L445.23,895.67 L446.39,894.73 L447.54,893.77 L448.67,892.80 L449.80,891.81 L450.90,890.81 L452.00,889.79 L453.08,888.75 L454.14,887.70 L455.19,886.63 L456.22,885.55 L457.24,884.45 L458.24,883.34 L459.23,882.21 L460.20,881.06 L461.16,879.91 L462.11,878.74 L463.04,877.56 L463.96,876.37 L464.88,875.17 L465.78,873.96 L466.67,872.74 L467.56,871.52 L468.44,870.29 L469.31,869.06 L470.18,867.82 L471.04,866.58 L471.90,865.33 L472.76,864.08 L473.61,862.83 L474.46,861.58 L475.31,860.33 L476.15,859.08 L476.99,857.83 L477.84,856.57 L478.68,855.32 L479.52,854.07 L480.36,852.81 L481.20,851.56 L482.04,850.31 L482.88,849.06 L483.72,847.81 L484.56,846.57 L485.41,845.32 L486.25,844.08 L487.10,842.84 L487.95,841.60 L488.81,840.36 L489.66,839.13 L490.52,837.90 L491.39,836.68 L492.26,835.45 L493.13,834.24 L494.01,833.02 L494.89,831.82 L495.78,830.61 L496.67,829.41 L497.57,828.22 L498.47,827.03 L499.39,825.85 L500.31,824.68 L501.23,823.51 L502.17,822.34 L503.11,821.19 L504.06,820.04 L505.02,818.89 L505.98,817.76 L506.96,816.62 L507.94,815.50 L508.93,814.37 L509.94,813.26 L510.95,812.14 L511.97,811.03 L513.00,809.93 L514.04,808.83 L515.09,807.73 L516.15,806.63 L517.23,805.54 L518.31,804.45 L519.40,803.37 L520.51,802.29 L521.63,801.23 L522.76,800.18 L523.90,799.15 L525.06,798.14 L526.23,797.15 L527.42,796.18 L528.62,795.25 L529.84,794.34 L531.08,793.47 L532.33,792.64 L533.60,791.85 L534.89,791.10 L536.20,790.39 L537.52,789.74 L538.87,789.13 L540.23,788.58 L541.61,788.07 L543.00,787.63 L544.41,787.23 L545.82,786.89 L547.24,786.60 L548.68,786.38 L550.11,786.20 L551.55,786.09 L553.00,786.04 L554.44,786.04 L555.89,786.11 L557.33,786.24 L558.77,786.43 L560.20,786.68 L561.62,787.00 L563.04,787.38 L564.45,787.82 L565.85,788.31 L567.24,788.86 L568.62,789.45 L569.99,790.09 L571.35,790.78 L572.70,791.50 L574.03,792.26 L575.35,793.06 L576.66,793.88 L577.95,794.74 L579.23,795.61 L580.49,796.51 L581.74,797.43 L582.97,798.36 L584.18,799.31 L585.38,800.27 L586.56,801.24 L587.73,802.22 L588.88,803.22 L590.01,804.22 L591.13,805.24 L592.24,806.27 L593.33,807.31 L594.41,808.36 L595.47,809.42 L596.52,810.50 L597.56,811.58 L598.59,812.67 L599.60,813.77 L600.60,814.88 L601.60,816.00 L602.58,817.13 L603.55,818.26 L604.51,819.41 L605.46,820.56 L606.40,821.72 L607.33,822.89 L608.25,824.06 L609.16,825.24 L610.07,826.43 L610.96,827.62 L611.85,828.82 L612.74,830.03 L613.61,831.24 L614.48,832.46 L615.35,833.68 L616.20,834.91 L617.05,836.14 L617.90,837.38 L618.74,838.62 L619.58,839.86 L620.42,841.11 L621.25,842.36 L622.07,843.61 L622.90,844.87 L623.72,846.13 L624.53,847.39 L625.35,848.65 L626.17,849.91 L626.98,851.18 L627.79,852.45 L628.60,853.72 L629.42,854.99 L630.23,856.26 L631.04,857.53 L631.85,858.80 L632.67,860.07 L633.48,861.33 L634.30,862.60 L635.12,863.87 L635.94,865.14 L636.76,866.40 L637.59,867.66 L638.42,868.92 L639.26,870.18 L640.10,871.44 L640.94,872.69 L641.79,873.94 L642.65,875.18 L643.51,876.43 L644.37,877.66 L645.24,878.90 L646.12,880.13 L647.01,881.35 L647.90,882.57 L648.80,883.78 L649.71,884.98 L650.63,886.18 L651.55,887.37 L652.49,888.55 L653.43,889.72 L654.39,890.88 L655.35,892.03 L656.33,893.17 L657.31,894.30 L658.31,895.42 L659.32,896.53 L660.34,897.62 L661.38,898.71 L662.42,899.77 L663.48,900.83 L664.55,901.87 L665.64,902.89 L666.74,903.90 L667.86,904.90 L668.99,905.87 L670.14,906.83 L671.30,907.78 L672.47,908.70 L673.67,909.61 L674.88,910.50 L676.11,911.36 L677.35,912.21 L678.61,913.04 L679.89,913.85 L681.19,914.63 L682.50,915.39 L683.83,916.13 L685.17,916.83 L686.53,917.51 L687.90,918.16 L689.28,918.77 L690.67,919.36 L692.08,919.90 L693.49,920.42 L694.92,920.89 L696.35,921.33 L697.79,921.73 L699.24,922.08 L700.70,922.39 L702.16,922.66 L703.63,922.89 L705.10,923.08 L706.58,923.23 L708.06,923.35 L709.55,923.44 L711.04,923.50 L712.53,923.53 L714.03,923.54 L715.53,923.52 L717.03,923.48 L718.54,923.43 L720.04,923.36 L721.55,923.27 L723.05,923.17 L724.56,923.07 L726.06,922.95 L727.57,922.83 L729.07,922.71 L730.57,922.58 L732.07,922.46 L733.57,922.33 L735.07,922.19 L736.57,922.06 L738.07,921.93 L739.57,921.79 L741.07,921.66 L742.56,921.52 L744.06,921.39 L745.56,921.26 L747.06,921.14 L748.55,921.01 L750.05,920.89 L751.55,920.77 L753.05,920.66 L754.55,920.55 L756.05,920.45 L757.55,920.35 L759.05,920.26 L760.55,920.17 L762.05,920.10 L763.56,920.03 L765.06,919.96 L766.57,919.91 L768.08,919.86 L769.58,919.83 L771.09,919.80 L772.60,919.78 L774.10,919.77 L775.61,919.77 L777.12,919.78 L778.62,919.80 L780.13,919.83 L781.64,919.87 L783.14,919.92 L784.65,919.98 L786.15,920.05 L787.65,920.14 L789.15,920.23 L790.65,920.34 L792.15,920.46 L793.65,920.59 L795.14,920.74 L796.64,920.89 L798.13,921.05 L799.62,921.23 L801.11,921.41 L802.60,921.60 L804.09,921.79 L805.58,922.00 L807.06,922.21 L808.55,922.43 L810.04,922.65 L811.52,922.88 L813.00,923.12 L814.49,923.35 L815.97,923.60 L817.46,923.84 L818.94,924.09 L820.42,924.34 L821.90,924.59 L823.39,924.84 L824.87,925.09 L826.35,925.35 L827.83,925.60 L829.32,925.85 L830.80,926.10 L832.28,926.35 L833.77,926.59 L835.25,926.83 L836.74,927.07 L838.22,927.30 L839.71,927.53 L841.20,927.76 L842.68,927.97 L844.17,928.19 L845.66,928.39 L847.15,928.60 L848.64,928.80 L850.13,928.99 L851.62,929.18 L853.12,929.36 L854.61,929.54 L856.10,929.71 L857.60,929.88 L859.09,930.05 L860.59,930.21 L862.08,930.37 L863.58,930.52 L865.08,930.67 L866.57,930.82 L868.07,930.96 L869.57,931.10 L871.07,931.23 L872.57,931.36 L874.07,931.49 L875.57,931.62 L877.07,931.74 L878.57,931.86 L880.07,931.97 L881.57,932.08 L883.07,932.19 L884.57,932.30 L886.08,932.40 L887.58,932.51 L889.08,932.61 L890.58,932.70 L892.09,932.80 L893.59,932.89 L895.09,932.98 L896.60,933.07 L898.10,933.16 L899.60,933.24 L901.11,933.32 L902.61,933.40 L904.12,933.49 L905.62,933.56 L907.13,933.64 L908.63,933.72 L910.13,933.79 L911.64,933.87 L913.14,933.94 L914.65,934.01 L916.15,934.08 L917.66,934.15 L919.16,934.23 L920.66,934.29 L922.17,934.36 L923.67,934.43 L925.17,934.50 L926.68,934.57 L928.18,934.64 L929.68,934.71 L931.19,934.78 L932.69,934.85 L934.19,934.92 L935.69,934.99 L937.20,935.06 L938.70,935.13 L940.20,935.20 L941.70,935.28 L943.20,935.35 L944.70,935.43 L946.20,935.50" fill="none" stroke="#c0504d" stroke-width="4.6" stroke-linecap="round" stroke-linejoin="round"/>
<path d="M212.90,940.50 L214.40,940.50 L215.90,940.50 L217.41,940.49 L218.91,940.49 L220.41,940.49 L221.91,940.48 L223.41,940.48 L224.92,940.47 L226.42,940.46 L227.92,940.46 L229.42,940.45 L230.93,940.44 L232.43,940.43 L233.93,940.42 L235.43,940.42 L236.94,940.41 L238.44,940.40 L239.94,940.39 L241.44,940.37 L242.95,940.36 L244.45,940.35 L245.95,940.34 L247.46,940.33 L248.96,940.32 L250.46,940.31 L251.97,940.29 L253.47,940.28 L254.97,940.27 L256.48,940.25 L257.98,940.24 L259.48,940.23 L260.99,940.22 L262.49,940.20 L263.99,940.19 L265.50,940.18 L267.00,940.16 L268.51,940.15 L270.01,940.14 L271.51,940.12 L273.02,940.11 L274.52,940.10 L276.02,940.08 L277.53,940.07 L279.03,940.06 L280.54,940.05 L282.04,940.03 L283.54,940.02 L285.05,940.01 L286.55,940.00 L288.05,939.99 L289.56,939.98 L291.06,939.97 L292.57,939.96 L294.07,939.95 L295.57,939.94 L297.08,939.93 L298.58,939.92 L300.08,939.91 L301.59,939.91 L303.09,939.90 L304.60,939.89 L306.10,939.89 L307.60,939.88 L309.11,939.88 L310.61,939.87 L312.11,939.87 L313.62,939.87 L315.12,939.86 L316.62,939.86 L318.13,939.86 L319.63,939.86 L321.13,939.86 L322.64,939.86 L324.14,939.87 L325.64,939.87 L327.15,939.87 L328.65,939.88 L330.15,939.88 L331.66,939.89 L333.16,939.90 L334.66,939.90 L336.16,939.91 L337.67,939.92 L339.17,939.93 L340.67,939.93 L342.17,939.94 L343.68,939.94 L345.18,939.94 L346.68,939.94 L348.18,939.94 L349.68,939.93 L351.18,939.92 L352.68,939.91 L354.18,939.89 L355.68,939.86 L357.17,939.83 L358.67,939.80 L360.17,939.76 L361.67,939.71 L363.16,939.65 L364.66,939.59 L366.15,939.52 L367.64,939.44 L369.14,939.36 L370.63,939.26 L372.12,939.16 L373.61,939.04 L375.10,938.92 L376.59,938.78 L378.07,938.64 L379.56,938.48 L381.04,938.31 L382.53,938.13 L384.01,937.94 L385.49,937.73 L386.97,937.51 L388.45,937.28 L389.93,937.03 L391.41,936.77 L392.89,936.49 L394.36,936.20 L395.83,935.89 L397.30,935.58 L398.77,935.24 L400.23,934.89 L401.70,934.53 L403.16,934.16 L404.61,933.77 L406.07,933.36 L407.52,932.94 L408.96,932.51 L410.40,932.07 L411.84,931.61 L413.28,931.13 L414.70,930.65 L416.13,930.14 L417.55,929.63 L418.96,929.10 L420.37,928.56 L421.77,928.01 L423.17,927.44 L424.56,926.86 L425.95,926.26 L427.33,925.65 L428.70,925.03 L430.06,924.40 L431.42,923.75 L432.77,923.09 L434.11,922.41 L435.45,921.72 L436.78,921.02 L438.10,920.31 L439.41,919.59 L440.71,918.85 L442.00,918.10 L443.29,917.33 L444.56,916.55 L445.82,915.76 L447.07,914.94 L448.31,914.12 L449.53,913.27 L450.74,912.41 L451.94,911.52 L453.11,910.62 L454.27,909.70 L455.42,908.75 L456.54,907.78 L457.65,906.79 L458.73,905.78 L459.80,904.74 L460.84,903.68 L461.86,902.59 L462.87,901.49 L463.85,900.36 L464.82,899.21 L465.77,898.04 L466.70,896.86 L467.61,895.66 L468.51,894.45 L469.40,893.22 L470.27,891.98 L471.12,890.73 L471.96,889.47 L472.79,888.20 L473.61,886.92 L474.42,885.64 L475.22,884.35 L476.01,883.06 L476.78,881.76 L477.56,880.46 L478.32,879.16 L479.08,877.85 L479.83,876.54 L480.58,875.23 L481.32,873.92 L482.06,872.60 L482.80,871.29 L483.54,869.98 L484.27,868.67 L485.01,867.35 L485.75,866.05 L486.49,864.74 L487.23,863.44 L487.97,862.14 L488.73,860.84 L489.48,859.55 L490.24,858.27 L491.01,856.99 L491.79,855.72 L492.57,854.45 L493.36,853.19 L494.17,851.94 L494.98,850.69 L495.81,849.46 L496.65,848.24 L497.50,847.02 L498.37,845.82 L499.25,844.62 L500.14,843.44 L501.06,842.27 L501.99,841.11 L502.94,839.97 L503.91,838.83 L504.89,837.71 L505.89,836.61 L506.91,835.51 L507.94,834.42 L508.98,833.34 L510.04,832.28 L511.12,831.22 L512.20,830.17 L513.30,829.13 L514.40,828.09 L515.52,827.06 L516.64,826.04 L517.78,825.02 L518.92,824.01 L520.07,823.00 L521.22,822.00 L522.39,821.00 L523.56,820.02 L524.74,819.05 L525.93,818.09 L527.14,817.16 L528.35,816.24 L529.58,815.35 L530.82,814.49 L532.08,813.66 L533.35,812.86 L534.63,812.09 L535.93,811.37 L537.26,810.68 L538.59,810.04 L539.95,809.44 L541.33,808.89 L542.73,808.39 L544.14,807.95 L545.57,807.55 L547.01,807.20 L548.46,806.91 L549.92,806.67 L551.39,806.48 L552.87,806.34 L554.35,806.25 L555.83,806.22 L557.31,806.24 L558.79,806.32 L560.26,806.45 L561.73,806.63 L563.19,806.87 L564.64,807.17 L566.08,807.52 L567.50,807.92 L568.91,808.38 L570.31,808.89 L571.69,809.45 L573.06,810.05 L574.42,810.69 L575.76,811.37 L577.09,812.08 L578.40,812.83 L579.71,813.61 L581.00,814.42 L582.27,815.25 L583.53,816.11 L584.78,816.98 L586.02,817.87 L587.24,818.77 L588.45,819.69 L589.65,820.62 L590.84,821.56 L592.01,822.52 L593.17,823.49 L594.31,824.47 L595.45,825.47 L596.57,826.47 L597.67,827.49 L598.77,828.52 L599.85,829.56 L600.92,830.62 L601.98,831.68 L603.02,832.76 L604.05,833.85 L605.07,834.95 L606.07,836.06 L607.07,837.18 L608.05,838.32 L609.02,839.46 L609.97,840.61 L610.91,841.78 L611.84,842.95 L612.76,844.14 L613.67,845.33 L614.56,846.53 L615.44,847.75 L616.31,848.97 L617.17,850.20 L618.01,851.44 L618.84,852.69 L619.66,853.95 L620.47,855.21 L621.27,856.49 L622.06,857.77 L622.83,859.05 L623.60,860.35 L624.37,861.64 L625.12,862.95 L625.88,864.25 L626.62,865.56 L627.36,866.88 L628.10,868.19 L628.84,869.51 L629.57,870.83 L630.31,872.14 L631.04,873.46 L631.78,874.78 L632.52,876.10 L633.26,877.41 L634.00,878.72 L634.75,880.03 L635.50,881.34 L636.26,882.64 L637.02,883.93 L637.80,885.22 L638.58,886.51 L639.37,887.79 L640.17,889.06 L640.98,890.32 L641.80,891.57 L642.64,892.82 L643.49,894.05 L644.35,895.28 L645.23,896.49 L646.13,897.70 L647.04,898.89 L647.96,900.07 L648.91,901.23 L649.86,902.39 L650.84,903.52 L651.83,904.65 L652.83,905.76 L653.86,906.85 L654.89,907.93 L655.95,909.00 L657.01,910.04 L658.10,911.07 L659.20,912.08 L660.31,913.07 L661.44,914.05 L662.59,915.00 L663.75,915.94 L664.92,916.86 L666.11,917.75 L667.31,918.62 L668.53,919.48 L669.77,920.31 L671.02,921.12 L672.28,921.90 L673.56,922.66 L674.85,923.40 L676.15,924.12 L677.48,924.80 L678.81,925.47 L680.16,926.11 L681.52,926.72 L682.90,927.30 L684.29,927.86 L685.70,928.39 L687.11,928.89 L688.55,929.37 L689.99,929.81 L691.45,930.23 L692.91,930.62 L694.39,930.98 L695.87,931.31 L697.36,931.62 L698.86,931.90 L700.36,932.15 L701.87,932.38 L703.37,932.58 L704.88,932.75 L706.39,932.90 L707.90,933.02 L709.41,933.12 L710.91,933.19 L712.41,933.24 L713.91,933.27 L715.41,933.27 L716.91,933.26 L718.41,933.24 L719.90,933.19 L721.39,933.14 L722.89,933.07 L724.38,932.99 L725.87,932.90 L727.36,932.81 L728.86,932.71 L730.35,932.61 L731.84,932.50 L733.34,932.40 L734.83,932.29 L736.33,932.19 L737.83,932.10 L739.32,932.01 L740.82,931.93 L742.32,931.85 L743.82,931.79 L745.31,931.75 L746.81,931.71 L748.31,931.70 L749.80,931.70 L751.30,931.72 L752.79,931.77 L754.29,931.84 L755.78,931.93 L757.27,932.05 L758.76,932.19 L760.25,932.36 L761.74,932.54 L763.23,932.75 L764.72,932.96 L766.21,933.20 L767.69,933.44 L769.18,933.69 L770.67,933.94 L772.15,934.20 L773.64,934.46 L775.13,934.72 L776.62,934.97 L778.11,935.22 L779.59,935.45 L781.08,935.68 L782.57,935.90 L784.06,936.11 L785.55,936.31 L787.05,936.51 L788.54,936.69 L790.03,936.87 L791.52,937.04 L793.02,937.20 L794.51,937.36 L796.01,937.51 L797.50,937.65 L799.00,937.78 L800.49,937.91 L801.99,938.03 L803.48,938.14 L804.98,938.25 L806.48,938.36 L807.98,938.45 L809.47,938.54 L810.97,938.63 L812.47,938.71 L813.97,938.79 L815.47,938.86 L816.97,938.93 L818.47,938.99 L819.97,939.05 L821.47,939.11 L822.97,939.16 L824.47,939.21 L825.97,939.25 L827.47,939.30 L828.97,939.34 L830.47,939.37 L831.97,939.41 L833.47,939.44 L834.98,939.47 L836.48,939.50 L837.98,939.52 L839.48,939.55 L840.98,939.57 L842.49,939.59 L843.99,939.61 L845.49,939.62 L846.99,939.64 L848.49,939.65 L850.00,939.66 L851.50,939.67 L853.00,939.68 L854.51,939.68 L856.01,939.69 L857.51,939.69 L859.01,939.69 L860.52,939.69 L862.02,939.69 L863.52,939.69 L865.03,939.69 L866.53,939.69 L868.03,939.68 L869.54,939.67 L871.04,939.67 L872.54,939.66 L874.05,939.65 L875.55,939.64 L877.05,939.63 L878.56,939.63 L880.06,939.61 L881.57,939.60 L883.07,939.59 L884.57,939.58 L886.08,939.57 L887.58,939.56 L889.08,939.54 L890.59,939.53 L892.09,939.52 L893.60,939.51 L895.10,939.49 L896.60,939.48 L898.11,939.47 L899.61,939.46 L901.11,939.45 L902.62,939.43 L904.12,939.42 L905.63,939.41 L907.13,939.40 L908.63,939.39 L910.14,939.38 L911.64,939.38 L913.14,939.37 L914.65,939.36 L916.15,939.36 L917.65,939.35 L919.16,939.35 L920.66,939.34 L922.16,939.34 L923.66,939.34 L925.17,939.34 L926.67,939.34 L928.17,939.35 L929.68,939.35 L931.18,939.36 L932.68,939.36 L934.18,939.37 L935.69,939.38 L937.19,939.39 L938.69,939.41 L940.19,939.42 L941.69,939.44 L943.20,939.46 L944.70,939.48 L946.20,939.50" fill="none" stroke="#9bbb59" stroke-width="4.6" stroke-linecap="round" stroke-linejoin="round"/>
<path d="M212.90,942.10 L214.40,942.09 L215.91,942.09 L217.41,942.08 L218.91,942.08 L220.42,942.07 L221.92,942.07 L223.42,942.06 L224.93,942.06 L226.43,942.05 L227.93,942.05 L229.44,942.04 L230.94,942.04 L232.44,942.03 L233.95,942.03 L235.45,942.02 L236.95,942.02 L238.46,942.01 L239.96,942.01 L241.46,942.00 L242.97,942.00 L244.47,941.99 L245.97,941.98 L247.48,941.98 L248.98,941.97 L250.48,941.97 L251.99,941.96 L253.49,941.96 L254.99,941.95 L256.50,941.95 L258.00,941.94 L259.50,941.93 L261.01,941.93 L262.51,941.92 L264.02,941.92 L265.52,941.91 L267.02,941.91 L268.53,941.90 L270.03,941.90 L271.53,941.89 L273.04,941.88 L274.54,941.88 L276.04,941.87 L277.55,941.87 L279.05,941.86 L280.55,941.86 L282.06,941.85 L283.56,941.84 L285.06,941.84 L286.57,941.83 L288.07,941.83 L289.57,941.82 L291.08,941.82 L292.58,941.81 L294.08,941.80 L295.59,941.80 L297.09,941.79 L298.59,941.79 L300.10,941.78 L301.60,941.78 L303.10,941.77 L304.61,941.76 L306.11,941.76 L307.61,941.75 L309.12,941.75 L310.62,941.74 L312.12,941.74 L313.63,941.73 L315.13,941.73 L316.63,941.72 L318.14,941.71 L319.64,941.71 L321.14,941.70 L322.65,941.70 L324.15,941.69 L325.65,941.69 L327.16,941.68 L328.66,941.68 L330.16,941.67 L331.67,941.67 L333.17,941.66 L334.67,941.65 L336.18,941.65 L337.68,941.64 L339.18,941.64 L340.69,941.64 L342.19,941.63 L343.69,941.63 L345.20,941.63 L346.70,941.63 L348.21,941.63 L349.71,941.63 L351.21,941.63 L352.72,941.63 L354.22,941.63 L355.72,941.64 L357.23,941.65 L358.73,941.65 L360.24,941.66 L361.74,941.68 L363.25,941.69 L364.75,941.70 L366.25,941.71 L367.76,941.71 L369.26,941.69 L370.76,941.66 L372.26,941.61 L373.75,941.54 L375.24,941.44 L376.73,941.30 L378.22,941.13 L379.70,940.93 L381.17,940.68 L382.65,940.39 L384.11,940.07 L385.58,939.72 L387.03,939.34 L388.49,938.96 L389.94,938.56 L391.38,938.15 L392.82,937.75 L394.26,937.34 L395.69,936.93 L397.12,936.53 L398.55,936.12 L399.97,935.71 L401.40,935.30 L402.83,934.90 L404.25,934.49 L405.68,934.08 L407.11,933.68 L408.55,933.27 L409.98,932.86 L411.42,932.46 L412.87,932.06 L414.32,931.65 L415.78,931.25 L417.24,930.85 L418.71,930.44 L420.18,930.03 L421.65,929.62 L423.12,929.20 L424.59,928.77 L426.06,928.34 L427.52,927.89 L428.97,927.42 L430.42,926.95 L431.86,926.45 L433.30,925.94 L434.71,925.41 L436.12,924.85 L437.51,924.27 L438.89,923.67 L440.24,923.04 L441.58,922.38 L442.90,921.69 L444.20,920.97 L445.47,920.22 L446.73,919.44 L447.97,918.63 L449.19,917.80 L450.38,916.93 L451.56,916.05 L452.73,915.13 L453.87,914.20 L455.00,913.24 L456.11,912.25 L457.20,911.25 L458.28,910.22 L459.34,909.18 L460.39,908.12 L461.42,907.03 L462.44,905.94 L463.45,904.82 L464.44,903.69 L465.42,902.54 L466.38,901.39 L467.34,900.21 L468.28,899.03 L469.21,897.84 L470.13,896.63 L471.04,895.42 L471.94,894.19 L472.83,892.96 L473.71,891.72 L474.58,890.48 L475.45,889.23 L476.30,887.98 L477.15,886.72 L477.99,885.46 L478.83,884.20 L479.66,882.94 L480.48,881.68 L481.30,880.42 L482.12,879.15 L482.93,877.89 L483.74,876.63 L484.55,875.37 L485.36,874.12 L486.17,872.86 L486.98,871.61 L487.79,870.36 L488.60,869.11 L489.41,867.87 L490.23,866.62 L491.05,865.39 L491.88,864.15 L492.72,862.93 L493.56,861.70 L494.41,860.49 L495.26,859.27 L496.13,858.07 L497.01,856.87 L497.89,855.67 L498.79,854.49 L499.70,853.31 L500.62,852.13 L501.56,850.97 L502.51,849.81 L503.47,848.67 L504.46,847.53 L505.45,846.40 L506.47,845.28 L507.50,844.17 L508.55,843.07 L509.62,841.98 L510.70,840.91 L511.81,839.85 L512.92,838.80 L514.06,837.78 L515.21,836.76 L516.37,835.77 L517.55,834.80 L518.75,833.84 L519.96,832.91 L521.18,832.00 L522.42,831.11 L523.67,830.25 L524.94,829.41 L526.21,828.60 L527.50,827.82 L528.81,827.06 L530.13,826.34 L531.45,825.64 L532.79,824.98 L534.14,824.34 L535.51,823.74 L536.88,823.18 L538.26,822.65 L539.66,822.16 L541.06,821.70 L542.48,821.29 L543.90,820.91 L545.33,820.57 L546.77,820.28 L548.22,820.03 L549.67,819.85 L551.13,819.71 L552.58,819.65 L554.04,819.65 L555.49,819.72 L556.94,819.88 L558.39,820.11 L559.83,820.43 L561.26,820.83 L562.68,821.31 L564.09,821.84 L565.49,822.43 L566.87,823.07 L568.24,823.74 L569.59,824.45 L570.93,825.19 L572.25,825.96 L573.56,826.75 L574.85,827.57 L576.12,828.42 L577.39,829.28 L578.63,830.16 L579.87,831.05 L581.09,831.96 L582.29,832.88 L583.49,833.81 L584.67,834.75 L585.84,835.70 L587.00,836.65 L588.15,837.61 L589.28,838.58 L590.41,839.56 L591.53,840.55 L592.65,841.54 L593.75,842.54 L594.85,843.55 L595.94,844.56 L597.03,845.59 L598.11,846.61 L599.19,847.65 L600.26,848.69 L601.34,849.73 L602.40,850.78 L603.47,851.84 L604.53,852.91 L605.58,853.98 L606.62,855.06 L607.66,856.16 L608.68,857.26 L609.70,858.37 L610.70,859.49 L611.69,860.62 L612.66,861.77 L613.62,862.93 L614.56,864.10 L615.48,865.28 L616.38,866.48 L617.27,867.69 L618.14,868.92 L618.99,870.16 L619.83,871.41 L620.65,872.66 L621.46,873.93 L622.26,875.21 L623.04,876.49 L623.82,877.79 L624.59,879.08 L625.35,880.39 L626.10,881.70 L626.85,883.01 L627.59,884.33 L628.33,885.65 L629.06,886.97 L629.80,888.29 L630.53,889.61 L631.26,890.94 L631.99,892.26 L632.73,893.58 L633.47,894.89 L634.21,896.20 L634.96,897.51 L635.71,898.81 L636.47,900.11 L637.24,901.40 L638.02,902.68 L638.80,903.96 L639.60,905.22 L640.41,906.48 L641.24,907.72 L642.08,908.95 L642.93,910.17 L643.80,911.38 L644.69,912.57 L645.59,913.75 L646.52,914.91 L647.46,916.05 L648.43,917.17 L649.41,918.27 L650.42,919.34 L651.46,920.39 L652.51,921.41 L653.59,922.40 L654.70,923.37 L655.84,924.30 L657.00,925.19 L658.20,926.06 L659.42,926.89 L660.68,927.68 L661.96,928.43 L663.27,929.15 L664.60,929.83 L665.96,930.48 L667.34,931.09 L668.74,931.68 L670.16,932.23 L671.59,932.75 L673.04,933.25 L674.50,933.71 L675.97,934.15 L677.45,934.56 L678.93,934.94 L680.42,935.30 L681.92,935.64 L683.41,935.95 L684.90,936.24 L686.40,936.51 L687.89,936.76 L689.38,936.98 L690.88,937.19 L692.37,937.38 L693.87,937.56 L695.36,937.71 L696.86,937.85 L698.36,937.98 L699.85,938.09 L701.35,938.19 L702.85,938.27 L704.34,938.34 L705.84,938.40 L707.34,938.45 L708.83,938.49 L710.33,938.52 L711.83,938.54 L713.33,938.55 L714.83,938.56 L716.33,938.56 L717.82,938.55 L719.32,938.54 L720.82,938.53 L722.32,938.51 L723.82,938.49 L725.32,938.47 L726.82,938.45 L728.32,938.42 L729.82,938.40 L731.32,938.38 L732.82,938.36 L734.32,938.34 L735.82,938.32 L737.32,938.31 L738.82,938.29 L740.32,938.28 L741.82,938.26 L743.32,938.25 L744.83,938.24 L746.33,938.23 L747.83,938.22 L749.33,938.21 L750.83,938.20 L752.33,938.19 L753.83,938.19 L755.34,938.18 L756.84,938.17 L758.34,938.17 L759.84,938.17 L761.34,938.16 L762.85,938.16 L764.35,938.16 L765.85,938.16 L767.35,938.16 L768.86,938.16 L770.36,938.16 L771.86,938.16 L773.36,938.16 L774.87,938.17 L776.37,938.17 L777.87,938.17 L779.38,938.18 L780.88,938.18 L782.38,938.18 L783.88,938.19 L785.39,938.19 L786.89,938.20 L788.39,938.20 L789.90,938.21 L791.40,938.21 L792.91,938.22 L794.41,938.23 L795.91,938.23 L797.42,938.24 L798.92,938.25 L800.42,938.25 L801.93,938.26 L803.43,938.27 L804.93,938.27 L806.44,938.28 L807.94,938.29 L809.45,938.29 L810.95,938.30 L812.45,938.30 L813.96,938.31 L815.46,938.32 L816.97,938.32 L818.47,938.33 L819.97,938.33 L821.48,938.34 L822.98,938.34 L824.49,938.34 L825.99,938.35 L827.50,938.35 L829.00,938.35 L830.50,938.36 L832.01,938.36 L833.51,938.36 L835.02,938.36 L836.52,938.36 L838.02,938.36 L839.53,938.36 L841.03,938.36 L842.54,938.36 L844.04,938.36 L845.55,938.35 L847.05,938.35 L848.55,938.34 L850.06,938.34 L851.56,938.33 L853.07,938.32 L854.57,938.32 L856.07,938.31 L857.58,938.30 L859.08,938.29 L860.59,938.28 L862.09,938.26 L863.59,938.25 L865.10,938.24 L866.60,938.22 L868.10,938.21 L869.61,938.19 L871.11,938.17 L872.61,938.15 L874.12,938.13 L875.62,938.11 L877.13,938.08 L878.63,938.06 L880.13,938.03 L881.64,938.01 L883.14,937.98 L884.64,937.95 L886.14,937.92 L887.65,937.89 L889.15,937.85 L890.65,937.82 L892.16,937.78 L893.66,937.74 L895.16,937.70 L896.66,937.66 L898.17,937.62 L899.67,937.58 L901.17,937.53 L902.67,937.48 L904.18,937.43 L905.68,937.38 L907.18,937.33 L908.68,937.28 L910.18,937.22 L911.69,937.16 L913.19,937.10 L914.69,937.04 L916.19,936.98 L917.69,936.92 L919.19,936.85 L920.70,936.78 L922.20,936.71 L923.70,936.64 L925.20,936.56 L926.70,936.49 L928.20,936.41 L929.70,936.33 L931.20,936.25 L932.70,936.16 L934.20,936.07 L935.70,935.99 L937.20,935.89 L938.70,935.80 L940.20,935.71 L941.70,935.61 L943.20,935.51 L944.70,935.41 L946.20,935.30" fill="none" stroke="#8064a2" stroke-width="4.6" stroke-linecap="round" stroke-linejoin="round"/>
<path d="M212.90,945.60 L214.41,945.59 L215.91,945.57 L217.42,945.56 L218.93,945.55 L220.43,945.54 L221.94,945.53 L223.45,945.52 L224.95,945.51 L226.46,945.50 L227.96,945.49 L229.47,945.49 L230.98,945.48 L232.48,945.48 L233.99,945.47 L235.49,945.47 L237.00,945.46 L238.50,945.46 L240.01,945.46 L241.51,945.46 L243.02,945.46 L244.52,945.46 L246.03,945.46 L247.53,945.46 L249.04,945.46 L250.54,945.46 L252.05,945.47 L253.55,945.47 L255.06,945.47 L256.56,945.48 L258.07,945.48 L259.57,945.49 L261.07,945.49 L262.58,945.50 L264.08,945.51 L265.59,945.51 L267.09,945.52 L268.60,945.53 L270.10,945.54 L271.61,945.54 L273.11,945.55 L274.61,945.56 L276.12,945.57 L277.62,945.58 L279.13,945.59 L280.63,945.60 L282.14,945.61 L283.64,945.62 L285.15,945.63 L286.65,945.65 L288.16,945.66 L289.66,945.67 L291.16,945.68 L292.67,945.69 L294.17,945.70 L295.68,945.72 L297.18,945.73 L298.69,945.74 L300.19,945.75 L301.70,945.77 L303.21,945.78 L304.71,945.79 L306.22,945.80 L307.72,945.82 L309.23,945.83 L310.73,945.84 L312.24,945.86 L313.75,945.87 L315.25,945.88 L316.76,945.89 L318.26,945.91 L319.77,945.92 L321.28,945.93 L322.78,945.94 L324.29,945.95 L325.80,945.97 L327.30,945.98 L328.81,945.99 L330.32,946.00 L331.83,946.01 L333.33,946.02 L334.84,946.03 L336.35,946.03 L337.86,946.03 L339.36,946.03 L340.87,946.03 L342.38,946.02 L343.88,946.01 L345.39,946.00 L346.89,945.98 L348.40,945.96 L349.90,945.93 L351.41,945.90 L352.91,945.86 L354.41,945.81 L355.92,945.76 L357.42,945.70 L358.92,945.64 L360.42,945.56 L361.92,945.48 L363.42,945.40 L364.92,945.30 L366.41,945.20 L367.91,945.08 L369.41,944.96 L370.90,944.83 L372.39,944.68 L373.88,944.53 L375.38,944.37 L376.86,944.19 L378.35,944.01 L379.84,943.81 L381.33,943.60 L382.81,943.38 L384.29,943.15 L385.78,942.91 L387.26,942.67 L388.74,942.41 L390.22,942.14 L391.69,941.86 L393.17,941.57 L394.64,941.28 L396.12,940.97 L397.59,940.66 L399.06,940.34 L400.53,940.01 L402.00,939.67 L403.47,939.32 L404.93,938.97 L406.40,938.61 L407.86,938.24 L409.33,937.87 L410.79,937.49 L412.25,937.10 L413.71,936.71 L415.17,936.31 L416.62,935.90 L418.08,935.49 L419.53,935.08 L420.99,934.66 L422.44,934.23 L423.89,933.80 L425.34,933.36 L426.79,932.92 L428.24,932.48 L429.68,932.03 L431.12,931.57 L432.56,931.11 L433.99,930.63 L435.42,930.14 L436.83,929.63 L438.24,929.11 L439.64,928.57 L441.03,928.01 L442.40,927.43 L443.76,926.82 L445.11,926.19 L446.44,925.53 L447.75,924.84 L449.05,924.12 L450.32,923.37 L451.58,922.59 L452.81,921.77 L454.03,920.91 L455.22,920.02 L456.39,919.10 L457.55,918.15 L458.68,917.17 L459.80,916.16 L460.89,915.13 L461.97,914.07 L463.03,913.00 L464.08,911.90 L465.10,910.78 L466.12,909.65 L467.11,908.50 L468.09,907.34 L469.06,906.16 L470.01,904.98 L470.95,903.79 L471.87,902.59 L472.78,901.38 L473.68,900.17 L474.57,898.95 L475.45,897.73 L476.31,896.51 L477.17,895.28 L478.03,894.05 L478.87,892.81 L479.71,891.57 L480.54,890.34 L481.37,889.10 L482.20,887.85 L483.02,886.61 L483.84,885.37 L484.67,884.13 L485.49,882.88 L486.31,881.64 L487.13,880.40 L487.96,879.16 L488.79,877.93 L489.62,876.69 L490.46,875.46 L491.31,874.23 L492.16,873.01 L493.02,871.79 L493.89,870.57 L494.77,869.36 L495.66,868.15 L496.56,866.95 L497.48,865.76 L498.40,864.57 L499.34,863.39 L500.30,862.21 L501.27,861.05 L502.25,859.89 L503.26,858.74 L504.27,857.60 L505.30,856.48 L506.35,855.36 L507.41,854.26 L508.49,853.17 L509.58,852.10 L510.69,851.04 L511.81,850.00 L512.94,848.98 L514.09,847.97 L515.26,846.98 L516.44,846.01 L517.63,845.07 L518.83,844.14 L520.05,843.24 L521.29,842.36 L522.54,841.51 L523.80,840.67 L525.07,839.87 L526.36,839.09 L527.66,838.34 L528.97,837.62 L530.30,836.93 L531.64,836.27 L532.99,835.64 L534.36,835.04 L535.74,834.48 L537.13,833.95 L538.53,833.45 L539.95,832.99 L541.37,832.56 L542.81,832.18 L544.26,831.83 L545.71,831.53 L547.18,831.26 L548.64,831.05 L550.11,830.88 L551.59,830.75 L553.06,830.68 L554.53,830.66 L556.00,830.70 L557.46,830.79 L558.92,830.94 L560.37,831.15 L561.81,831.41 L563.24,831.75 L564.66,832.14 L566.06,832.58 L567.46,833.08 L568.85,833.63 L570.22,834.23 L571.58,834.86 L572.93,835.53 L574.27,836.24 L575.59,836.98 L576.91,837.74 L578.21,838.52 L579.50,839.33 L580.77,840.15 L582.04,840.99 L583.29,841.85 L584.53,842.72 L585.76,843.61 L586.97,844.51 L588.17,845.43 L589.36,846.37 L590.54,847.32 L591.70,848.29 L592.86,849.27 L594.00,850.27 L595.12,851.28 L596.24,852.30 L597.34,853.34 L598.43,854.38 L599.50,855.45 L600.57,856.52 L601.62,857.61 L602.66,858.71 L603.68,859.82 L604.70,860.94 L605.70,862.07 L606.69,863.21 L607.66,864.37 L608.62,865.53 L609.57,866.70 L610.51,867.88 L611.43,869.07 L612.34,870.27 L613.24,871.48 L614.13,872.70 L615.01,873.92 L615.88,875.15 L616.73,876.38 L617.58,877.62 L618.43,878.87 L619.26,880.12 L620.09,881.37 L620.92,882.63 L621.74,883.89 L622.55,885.15 L623.37,886.42 L624.18,887.69 L624.98,888.96 L625.79,890.22 L626.60,891.49 L627.41,892.76 L628.22,894.03 L629.03,895.29 L629.84,896.56 L630.66,897.82 L631.48,899.08 L632.31,900.33 L633.14,901.58 L633.98,902.83 L634.82,904.07 L635.68,905.31 L636.54,906.54 L637.41,907.76 L638.29,908.98 L639.18,910.18 L640.09,911.38 L641.00,912.58 L641.93,913.76 L642.88,914.93 L643.83,916.09 L644.81,917.23 L645.80,918.35 L646.80,919.46 L647.83,920.55 L648.87,921.62 L649.93,922.66 L651.01,923.68 L652.12,924.67 L653.24,925.63 L654.39,926.56 L655.57,927.45 L656.76,928.32 L657.98,929.15 L659.23,929.94 L660.50,930.69 L661.80,931.40 L663.13,932.08 L664.47,932.72 L665.84,933.33 L667.22,933.91 L668.63,934.46 L670.04,934.98 L671.47,935.48 L672.92,935.96 L674.37,936.41 L675.83,936.85 L677.30,937.27 L678.78,937.67 L680.26,938.06 L681.74,938.44 L683.22,938.81 L684.70,939.17 L686.18,939.52 L687.66,939.85 L689.15,940.18 L690.63,940.49 L692.11,940.78 L693.60,941.06 L695.08,941.32 L696.56,941.57 L698.05,941.79 L699.54,942.00 L701.02,942.18 L702.51,942.35 L704.00,942.49 L705.50,942.60 L706.99,942.70 L708.48,942.77 L709.98,942.82 L711.47,942.86 L712.97,942.88 L714.47,942.89 L715.97,942.89 L717.47,942.87 L718.97,942.85 L720.47,942.83 L721.97,942.80 L723.47,942.77 L724.97,942.74 L726.48,942.71 L727.98,942.68 L729.48,942.65 L730.98,942.63 L732.48,942.60 L733.99,942.58 L735.49,942.55 L736.99,942.53 L738.49,942.50 L740.00,942.48 L741.50,942.46 L743.00,942.43 L744.50,942.41 L746.01,942.39 L747.51,942.37 L749.01,942.35 L750.52,942.33 L752.02,942.31 L753.52,942.30 L755.03,942.28 L756.53,942.26 L758.03,942.24 L759.54,942.23 L761.04,942.21 L762.54,942.20 L764.05,942.18 L765.55,942.17 L767.06,942.16 L768.56,942.14 L770.06,942.13 L771.57,942.12 L773.07,942.11 L774.58,942.10 L776.08,942.08 L777.59,942.07 L779.09,942.06 L780.59,942.05 L782.10,942.05 L783.60,942.04 L785.11,942.03 L786.61,942.02 L788.12,942.01 L789.62,942.01 L791.13,942.00 L792.63,941.99 L794.14,941.99 L795.64,941.98 L797.15,941.98 L798.65,941.97 L800.16,941.97 L801.67,941.96 L803.17,941.96 L804.68,941.95 L806.18,941.95 L807.69,941.95 L809.19,941.94 L810.70,941.94 L812.20,941.94 L813.71,941.94 L815.22,941.94 L816.72,941.93 L818.23,941.93 L819.73,941.93 L821.24,941.93 L822.74,941.93 L824.25,941.93 L825.76,941.93 L827.26,941.93 L828.77,941.93 L830.27,941.93 L831.78,941.93 L833.29,941.93 L834.79,941.93 L836.30,941.93 L837.80,941.94 L839.31,941.94 L840.82,941.94 L842.32,941.94 L843.83,941.94 L845.33,941.94 L846.84,941.95 L848.35,941.95 L849.85,941.95 L851.36,941.95 L852.87,941.96 L854.37,941.96 L855.88,941.96 L857.38,941.96 L858.89,941.97 L860.40,941.97 L861.90,941.97 L863.41,941.97 L864.91,941.98 L866.42,941.98 L867.93,941.98 L869.43,941.99 L870.94,941.99 L872.45,941.99 L873.95,942.00 L875.46,942.00 L876.96,942.00 L878.47,942.00 L879.98,942.01 L881.48,942.01 L882.99,942.01 L884.49,942.02 L886.00,942.02 L887.50,942.02 L889.01,942.02 L890.52,942.03 L892.02,942.03 L893.53,942.03 L895.03,942.03 L896.54,942.04 L898.05,942.04 L899.55,942.04 L901.06,942.04 L902.56,942.04 L904.07,942.04 L905.57,942.05 L907.08,942.05 L908.58,942.05 L910.09,942.05 L911.59,942.05 L913.10,942.05 L914.60,942.05 L916.11,942.05 L917.61,942.05 L919.12,942.05 L920.62,942.05 L922.13,942.05 L923.63,942.05 L925.14,942.05 L926.64,942.04 L928.15,942.04 L929.65,942.04 L931.16,942.04 L932.66,942.04 L934.17,942.03 L935.67,942.03 L937.18,942.03 L938.68,942.02 L940.18,942.02 L941.69,942.01 L943.19,942.01 L944.70,942.00 L946.20,942.00" fill="none" stroke="#4bacc6" stroke-width="4.6" stroke-linecap="round" stroke-linejoin="round"/>
<path d="M212.90,939.00 L214.40,938.99 L215.91,938.97 L217.41,938.96 L218.91,938.94 L220.41,938.93 L221.92,938.92 L223.42,938.91 L224.92,938.90 L226.43,938.90 L227.93,938.89 L229.44,938.88 L230.94,938.88 L232.45,938.87 L233.95,938.87 L235.46,938.87 L236.96,938.87 L238.47,938.87 L239.97,938.87 L241.48,938.87 L242.98,938.87 L244.49,938.87 L246.00,938.87 L247.50,938.87 L249.01,938.88 L250.51,938.88 L252.02,938.89 L253.53,938.89 L255.03,938.90 L256.54,938.90 L258.05,938.91 L259.56,938.91 L261.06,938.92 L262.57,938.93 L264.08,938.93 L265.58,938.94 L267.09,938.95 L268.60,938.95 L270.11,938.96 L271.61,938.97 L273.12,938.98 L274.63,938.98 L276.14,938.99 L277.64,939.00 L279.15,939.01 L280.66,939.01 L282.16,939.02 L283.67,939.03 L285.18,939.03 L286.69,939.04 L288.19,939.05 L289.70,939.05 L291.21,939.06 L292.72,939.06 L294.22,939.07 L295.73,939.07 L297.24,939.08 L298.74,939.08 L300.25,939.08 L301.76,939.09 L303.26,939.09 L304.77,939.09 L306.28,939.09 L307.78,939.09 L309.29,939.09 L310.79,939.09 L312.30,939.08 L313.80,939.08 L315.31,939.08 L316.82,939.07 L318.32,939.07 L319.83,939.06 L321.33,939.05 L322.83,939.04 L324.34,939.03 L325.84,939.02 L327.35,939.01 L328.85,939.00 L330.35,938.99 L331.86,938.97 L333.36,938.96 L334.86,938.94 L336.37,938.93 L337.87,938.91 L339.37,938.89 L340.88,938.87 L342.38,938.86 L343.88,938.84 L345.38,938.82 L346.89,938.81 L348.39,938.79 L349.89,938.77 L351.39,938.75 L352.90,938.74 L354.40,938.72 L355.90,938.71 L357.40,938.70 L358.91,938.68 L360.41,938.67 L361.91,938.66 L363.41,938.65 L364.92,938.64 L366.42,938.63 L367.92,938.63 L369.42,938.63 L370.93,938.62 L372.43,938.62 L373.93,938.62 L375.44,938.63 L376.94,938.63 L378.45,938.64 L379.95,938.65 L381.45,938.66 L382.96,938.67 L384.46,938.69 L385.97,938.71 L387.47,938.73 L388.98,938.75 L390.48,938.78 L391.99,938.81 L393.50,938.85 L395.00,938.88 L396.51,938.92 L398.02,938.96 L399.53,939.01 L401.04,939.06 L402.54,939.11 L404.05,939.17 L405.56,939.23 L407.07,939.30 L408.58,939.37 L410.09,939.44 L411.60,939.52 L413.12,939.60 L414.63,939.68 L416.14,939.77 L417.65,939.87 L419.17,939.97 L420.68,940.07 L422.19,940.18 L423.71,940.30 L425.23,940.41 L426.74,940.54 L428.26,940.66 L429.77,940.78 L431.28,940.89 L432.79,940.99 L434.29,941.07 L435.79,941.14 L437.29,941.18 L438.78,941.20 L440.26,941.19 L441.73,941.15 L443.20,941.07 L444.65,940.95 L446.10,940.79 L447.53,940.58 L448.95,940.33 L450.36,940.01 L451.76,939.65 L453.14,939.22 L454.51,938.73 L455.86,938.19 L457.21,937.60 L458.54,936.97 L459.86,936.29 L461.17,935.57 L462.47,934.83 L463.76,934.05 L465.04,933.24 L466.31,932.41 L467.58,931.56 L468.84,930.69 L470.09,929.81 L471.33,928.93 L472.57,928.04 L473.81,927.14 L475.04,926.24 L476.26,925.34 L477.49,924.44 L478.71,923.54 L479.93,922.64 L481.14,921.73 L482.36,920.83 L483.57,919.93 L484.78,919.03 L486.00,918.14 L487.21,917.24 L488.42,916.36 L489.64,915.47 L490.86,914.59 L492.08,913.72 L493.30,912.85 L494.53,911.99 L495.76,911.14 L497.00,910.29 L498.24,909.46 L499.49,908.63 L500.74,907.81 L502.00,907.01 L503.27,906.21 L504.54,905.43 L505.82,904.66 L507.11,903.90 L508.41,903.15 L509.72,902.42 L511.04,901.71 L512.37,901.00 L513.70,900.32 L515.05,899.65 L516.40,898.99 L517.76,898.35 L519.13,897.72 L520.51,897.11 L521.89,896.51 L523.28,895.93 L524.68,895.37 L526.09,894.83 L527.50,894.30 L528.92,893.78 L530.34,893.29 L531.77,892.81 L533.20,892.35 L534.65,891.90 L536.09,891.48 L537.54,891.07 L539.00,890.68 L540.46,890.31 L541.92,889.96 L543.39,889.62 L544.87,889.31 L546.34,889.01 L547.82,888.73 L549.31,888.48 L550.79,888.24 L552.28,888.02 L553.77,887.82 L555.27,887.65 L556.76,887.49 L558.26,887.35 L559.76,887.24 L561.26,887.15 L562.76,887.07 L564.27,887.02 L565.77,886.99 L567.28,886.98 L568.78,887.00 L570.29,887.04 L571.79,887.09 L573.30,887.18 L574.80,887.28 L576.31,887.41 L577.81,887.56 L579.31,887.73 L580.81,887.93 L582.31,888.15 L583.81,888.40 L585.30,888.67 L586.79,888.97 L588.27,889.29 L589.75,889.64 L591.21,890.02 L592.66,890.43 L594.10,890.88 L595.53,891.35 L596.94,891.86 L598.33,892.40 L599.70,892.98 L601.05,893.60 L602.37,894.26 L603.67,894.95 L604.95,895.68 L606.20,896.46 L607.42,897.26 L608.63,898.10 L609.81,898.98 L610.98,899.88 L612.12,900.82 L613.25,901.77 L614.37,902.76 L615.47,903.76 L616.55,904.79 L617.62,905.84 L618.69,906.90 L619.74,907.98 L620.78,909.07 L621.82,910.18 L622.85,911.29 L623.88,912.41 L624.90,913.54 L625.92,914.67 L626.94,915.81 L627.95,916.95 L628.97,918.09 L629.98,919.24 L630.99,920.38 L632.01,921.52 L633.03,922.66 L634.05,923.79 L635.07,924.92 L636.10,926.04 L637.14,927.16 L638.18,928.26 L639.23,929.35 L640.29,930.43 L641.35,931.50 L642.43,932.55 L643.51,933.59 L644.61,934.61 L645.72,935.61 L646.84,936.59 L647.98,937.55 L649.13,938.49 L650.29,939.40 L651.47,940.29 L652.67,941.16 L653.89,941.99 L655.12,942.80 L656.37,943.58 L657.64,944.33 L658.93,945.05 L660.24,945.74 L661.56,946.40 L662.90,947.04 L664.26,947.65 L665.63,948.23 L667.01,948.79 L668.41,949.32 L669.82,949.83 L671.24,950.32 L672.67,950.78 L674.11,951.22 L675.56,951.63 L677.02,952.03 L678.49,952.40 L679.96,952.76 L681.44,953.09 L682.93,953.40 L684.42,953.70 L685.92,953.98 L687.42,954.24 L688.93,954.48 L690.43,954.70 L691.94,954.91 L693.45,955.11 L694.96,955.29 L696.47,955.46 L697.98,955.61 L699.49,955.75 L700.99,955.87 L702.50,955.99 L704.00,956.09 L705.51,956.18 L707.01,956.26 L708.51,956.33 L710.02,956.40 L711.52,956.45 L713.02,956.49 L714.52,956.53 L716.02,956.56 L717.52,956.58 L719.02,956.59 L720.52,956.60 L722.02,956.60 L723.52,956.60 L725.02,956.60 L726.52,956.58 L728.01,956.57 L729.51,956.55 L731.01,956.53 L732.51,956.51 L734.01,956.49 L735.51,956.47 L737.01,956.44 L738.51,956.42 L740.00,956.40 L741.50,956.37 L743.00,956.35 L744.50,956.33 L746.00,956.31 L747.50,956.29 L749.00,956.27 L750.50,956.25 L752.01,956.24 L753.51,956.22 L755.01,956.20 L756.51,956.19 L758.01,956.17 L759.51,956.16 L761.01,956.14 L762.52,956.13 L764.02,956.11 L765.52,956.10 L767.02,956.09 L768.53,956.08 L770.03,956.07 L771.53,956.06 L773.04,956.05 L774.54,956.04 L776.04,956.03 L777.55,956.02 L779.05,956.01 L780.55,956.00 L782.06,955.99 L783.56,955.99 L785.07,955.98 L786.57,955.98 L788.08,955.97 L789.58,955.96 L791.09,955.96 L792.59,955.96 L794.10,955.95 L795.60,955.95 L797.11,955.95 L798.61,955.94 L800.12,955.94 L801.62,955.94 L803.13,955.94 L804.63,955.93 L806.14,955.93 L807.65,955.93 L809.15,955.93 L810.66,955.93 L812.16,955.93 L813.67,955.93 L815.18,955.93 L816.68,955.93 L818.19,955.94 L819.70,955.94 L821.20,955.94 L822.71,955.94 L824.22,955.94 L825.72,955.95 L827.23,955.95 L828.74,955.95 L830.24,955.95 L831.75,955.96 L833.26,955.96 L834.77,955.96 L836.27,955.97 L837.78,955.97 L839.29,955.97 L840.79,955.98 L842.30,955.98 L843.81,955.99 L845.32,955.99 L846.82,956.00 L848.33,956.00 L849.84,956.01 L851.35,956.01 L852.85,956.02 L854.36,956.02 L855.87,956.02 L857.38,956.03 L858.88,956.03 L860.39,956.04 L861.90,956.04 L863.40,956.05 L864.91,956.05 L866.42,956.06 L867.93,956.06 L869.43,956.07 L870.94,956.07 L872.45,956.08 L873.96,956.08 L875.46,956.09 L876.97,956.09 L878.48,956.10 L879.98,956.10 L881.49,956.11 L883.00,956.11 L884.50,956.12 L886.01,956.12 L887.52,956.12 L889.02,956.13 L890.53,956.13 L892.04,956.14 L893.54,956.14 L895.05,956.14 L896.56,956.15 L898.06,956.15 L899.57,956.15 L901.07,956.15 L902.58,956.16 L904.09,956.16 L905.59,956.16 L907.10,956.16 L908.60,956.16 L910.11,956.16 L911.61,956.17 L913.12,956.17 L914.62,956.17 L916.13,956.17 L917.63,956.17 L919.14,956.17 L920.64,956.17 L922.15,956.16 L923.65,956.16 L925.16,956.16 L926.66,956.16 L928.16,956.16 L929.67,956.15 L931.17,956.15 L932.67,956.15 L934.18,956.14 L935.68,956.14 L937.18,956.13 L938.69,956.13 L940.19,956.12 L941.69,956.12 L943.19,956.11 L944.70,956.10 L946.20,956.10" fill="none" stroke="#f79646" stroke-width="4.6" stroke-linecap="round" stroke-linejoin="round"/>
<text x="173.7" y="34.2" text-anchor="end" font-size="21.3" font-family="Liberation Sans, sans-serif" font-weight="bold">1.5</text>
<text x="173.7" y="174.5" text-anchor="end" font-size="21.3" font-family="Liberation Sans, sans-serif" font-weight="bold">1</text>
<text x="173.7" y="314.6" text-anchor="end" font-size="21.3" font-family="Liberation Sans, sans-serif" font-weight="bold">0.5</text>
<text x="173.7" y="455.5" text-anchor="end" font-size="21.3" font-family="Liberation Sans, sans-serif" font-weight="bold">0</text>
<text x="195.7" y="486" text-anchor="middle" font-size="21.3" font-family="Liberation Sans, sans-serif" font-weight="bold">200</text>
<text x="445.8" y="486" text-anchor="middle" font-size="21.3" font-family="Liberation Sans, sans-serif" font-weight="bold">300</text>
<text x="695.6" y="486" text-anchor="middle" font-size="21.3" font-family="Liberation Sans, sans-serif" font-weight="bold">400</text>
<text x="945.4" y="486" text-anchor="middle" font-size="21.3" font-family="Liberation Sans, sans-serif" font-weight="bold">500</text>
<text x="479.5" y="524.6" font-size="23" textLength="181.5" lengthAdjust="spacingAndGlyphs" font-family="Liberation Sans, sans-serif" font-weight="bold">Wavelength (nm)</text>
<text transform="translate(131,333.6) rotate(-90)" font-size="23.5" textLength="189.5" lengthAdjust="spacingAndGlyphs" font-family="Liberation Sans, sans-serif" font-weight="bold">Absorbance (a.u.)</text>
<text x="7.9" y="276.8" font-size="65" font-family="Liberation Sans, sans-serif" font-weight="bold">A</text>
<text x="308.3" y="129.5" font-size="31.5" fill="#1aac46" textLength="81.8" lengthAdjust="spacingAndGlyphs" font-family="Liberation Sans, sans-serif" font-weight="bold">CQDs</text>
<text x="744" y="143.9" font-size="31" fill="#e31e26" textLength="112.5" lengthAdjust="spacingAndGlyphs" font-family="Liberation Sans, sans-serif" font-weight="bold">CQD/Ag</text>
<text x="188.4" y="1030.8" text-anchor="middle" font-size="21.5" font-family="Liberation Sans, sans-serif" font-weight="bold">350</text>
<text x="310.3" y="1030.8" text-anchor="middle" font-size="21.5" font-family="Liberation Sans, sans-serif" font-weight="bold">400</text>
<text x="432.7" y="1030.8" text-anchor="middle" font-size="21.5" font-family="Liberation Sans, sans-serif" font-weight="bold">450</text>
<text x="555.2" y="1030.8" text-anchor="middle" font-size="21.5" font-family="Liberation Sans, sans-serif" font-weight="bold">500</text>
<text x="677.5" y="1030.8" text-anchor="middle" font-size="21.5" font-family="Liberation Sans, sans-serif" font-weight="bold">550</text>
<text x="799.9" y="1030.8" text-anchor="middle" font-size="21.5" font-family="Liberation Sans, sans-serif" font-weight="bold">600</text>
<text x="921.9" y="1030.8" text-anchor="middle" font-size="21.5" font-family="Liberation Sans, sans-serif" font-weight="bold">650</text>
<text x="481.5" y="1070.4" font-size="22" textLength="172" lengthAdjust="spacingAndGlyphs" font-family="Liberation Sans, sans-serif" font-weight="bold">Wavelength (nm)</text>
<text transform="translate(176.5,846.1) rotate(-90)" font-size="21.5" textLength="85.5" lengthAdjust="spacingAndGlyphs" font-family="Liberation Sans, sans-serif" font-weight="bold">Intensity</text>
<text transform="translate(176.5,749.2) rotate(-90)" font-size="21.5" textLength="60" lengthAdjust="spacingAndGlyphs" font-family="Liberation Sans, sans-serif" font-weight="bold">(a. u.)</text>
<text transform="translate(19.2,822.8) scale(0.93,1)" font-size="64.5" font-family="Liberation Sans, sans-serif" font-weight="bold">B</text>
<text x="229.3" y="645.2" font-size="33" fill="#f57b1f" textLength="104" lengthAdjust="spacingAndGlyphs" font-family="Liberation Sans, sans-serif" font-weight="bold">396 nm</text>
<text x="229.3" y="680.0" font-size="33" fill="#94d4e6" textLength="104" lengthAdjust="spacingAndGlyphs" font-family="Liberation Sans, sans-serif" font-weight="bold">366 nm</text>
<text x="229.3" y="714.9" font-size="33" fill="#9a3e9f" textLength="104" lengthAdjust="spacingAndGlyphs" font-family="Liberation Sans, sans-serif" font-weight="bold">336 nm</text>
<text x="229.3" y="749.6" font-size="33" fill="#b0e116" textLength="104" lengthAdjust="spacingAndGlyphs" font-family="Liberation Sans, sans-serif" font-weight="bold">306 nm</text>
<text x="229.3" y="784.3" font-size="33" fill="#870010" textLength="104" lengthAdjust="spacingAndGlyphs" font-family="Liberation Sans, sans-serif" font-weight="bold">276 nm</text>
<text x="229.3" y="819.0" font-size="33" fill="#009ce1" textLength="104" lengthAdjust="spacingAndGlyphs" font-family="Liberation Sans, sans-serif" font-weight="bold">246 nm</text>
</svg>
</body></html>
